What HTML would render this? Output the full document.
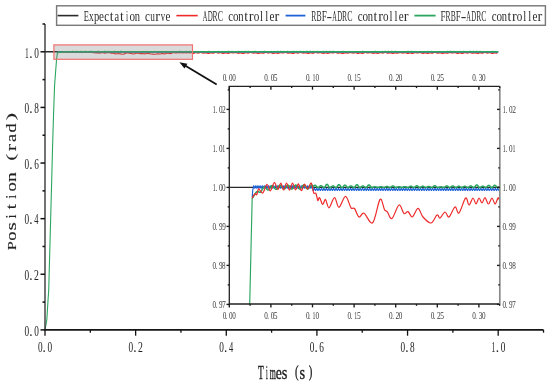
<!DOCTYPE html>
<html><head><meta charset="utf-8"><style>
html,body{margin:0;padding:0;background:#fff;width:550px;height:385px;overflow:hidden;}
svg{will-change:transform;}
svg{display:block;}
text{font-family:"Liberation Serif", serif;}
</style></head><body>
<svg width="550" height="385" viewBox="0 0 550 385" font-family='"Liberation Serif", serif'>
<rect width="550" height="385" fill="#fff"/>
<g fill="none" stroke-linejoin="round">
<path d="M45.00,51.80 L498.20,51.80" stroke="#2a2a2a" stroke-width="1.6"/>
<path d="M57.46,52.58 L58.60,51.95 L59.50,52.04 L60.41,52.07 L61.32,51.87 L62.22,51.68 L63.13,51.77 L64.03,51.96 L64.94,51.92 L65.85,51.70 L66.75,51.66 L67.66,51.86 L68.57,51.97 L69.47,51.80 L70.38,51.64 L71.29,51.74 L72.19,51.94 L73.10,51.91 L74.00,51.69 L74.91,51.66 L75.82,51.86 L76.72,51.96 L77.63,51.80 L78.54,51.64 L79.44,51.74 L80.35,51.94 L81.26,51.91 L82.16,51.69 L83.07,51.66 L83.98,51.86 L84.88,51.96 L85.79,51.80 L86.69,51.64 L87.60,51.74 L88.51,51.94 L89.41,51.91 L90.32,51.85 L91.23,52.19 L92.13,52.24 L93.04,52.65 L93.95,52.58 L94.85,52.72 L95.76,52.99 L96.66,52.83 L97.57,52.72 L98.48,53.00 L99.38,53.24 L100.29,53.02 L101.20,52.80 L102.10,52.58 L103.01,52.73 L103.92,52.98 L104.82,53.20 L105.73,53.01 L106.64,52.81 L107.54,52.61 L108.45,52.48 L109.35,52.73 L110.26,52.98 L111.17,53.22 L112.07,53.28 L112.98,53.30 L113.89,53.47 L114.79,53.70 L115.70,53.91 L116.61,53.82 L117.51,53.73 L118.42,53.65 L119.32,53.78 L120.23,53.91 L121.14,54.04 L122.04,54.17 L122.95,54.29 L123.86,54.01 L124.76,53.63 L125.67,53.25 L126.58,52.88 L127.48,52.78 L128.39,53.05 L129.30,53.31 L130.20,53.45 L131.11,53.55 L132.01,53.72 L132.92,53.89 L133.83,53.97 L134.73,53.74 L135.64,53.51 L136.55,53.28 L137.45,53.06 L138.36,53.26 L139.27,53.47 L140.17,53.67 L141.08,53.61 L141.98,53.55 L142.89,53.61 L143.80,53.76 L144.70,53.91 L145.61,53.74 L146.52,53.55 L147.42,53.37 L148.33,53.42 L149.24,53.62 L150.14,53.83 L151.05,53.96 L151.96,54.05 L152.86,54.14 L153.77,54.23 L154.67,54.32 L155.58,54.21 L156.49,54.06 L157.39,53.90 L158.30,53.79 L159.21,53.91 L160.11,53.93 L161.02,53.79 L161.93,53.64 L162.83,53.61 L163.74,53.76 L164.64,53.91 L165.55,53.72 L166.46,53.52 L167.36,53.32 L168.27,53.26 L169.18,53.44 L170.08,53.62 L170.99,53.37 L171.90,53.10 L172.80,52.83 L173.71,52.56 L174.62,52.80 L175.52,53.04 L176.43,52.86 L177.33,52.65 L178.24,52.69 L179.15,52.92 L180.05,52.81 L180.96,52.57 L181.87,52.74 L182.77,52.88 L183.68,52.67 L184.59,52.60 L185.49,52.83 L186.40,52.93 L187.30,52.73 L188.21,52.59 L189.12,52.82 L190.02,52.91 L190.93,52.67 L191.84,52.64 L192.74,53.48 L193.65,53.49 L194.56,53.12 L195.46,52.73 L196.37,52.70 L197.28,52.97 L198.18,53.14 L199.09,52.94 L199.99,52.57 L200.90,52.43 L201.81,52.70 L202.71,53.11 L203.62,53.24 L204.53,53.02 L205.43,52.80 L206.34,52.92 L207.25,53.31 L208.15,53.57 L209.06,53.42 L209.96,53.03 L210.87,52.82 L211.78,52.99 L212.68,53.25 L213.59,53.22 L214.50,52.84 L215.40,52.48 L216.31,52.50 L217.22,52.84 L218.12,53.10 L219.03,53.00 L219.94,52.71 L220.84,52.64 L221.75,52.96 L222.65,53.39 L223.56,53.50 L224.47,53.24 L225.37,52.94 L226.28,52.98 L227.19,53.28 L228.09,53.45 L229.00,53.22 L229.91,52.77 L230.81,52.54 L231.72,52.71 L232.62,53.02 L233.53,53.05 L234.44,52.76 L235.34,52.49 L236.25,52.60 L237.16,53.03 L238.06,53.35 L238.97,53.28 L239.88,52.99 L240.78,52.89 L241.69,53.15 L242.60,53.49 L243.50,53.51 L244.41,53.15 L245.31,52.78 L246.22,52.74 L247.13,53.01 L248.03,53.17 L248.94,52.96 L249.85,52.57 L250.75,52.42 L251.66,52.68 L252.57,53.07 L253.47,53.20 L254.38,52.97 L255.28,52.76 L256.19,52.88 L257.10,53.29 L258.00,53.57 L258.91,53.43 L259.82,53.05 L260.72,52.85 L261.63,53.02 L262.54,53.29 L263.44,53.26 L264.35,52.87 L265.26,52.50 L266.16,52.51 L267.07,52.84 L267.97,53.09 L268.88,52.98 L269.79,52.68 L270.69,52.60 L271.60,52.92 L272.51,53.35 L273.41,53.47 L274.32,53.22 L275.23,52.94 L276.13,52.99 L277.04,53.30 L277.94,53.48 L278.85,53.26 L279.76,52.82 L280.66,52.58 L281.57,52.74 L282.48,53.03 L283.38,53.05 L284.29,52.75 L285.20,52.47 L286.10,52.57 L287.01,52.99 L287.92,53.30 L288.82,53.24 L289.73,52.96 L290.63,52.87 L291.54,53.14 L292.45,53.50 L293.35,53.53 L294.26,53.18 L295.17,52.81 L296.07,52.79 L296.98,53.05 L297.89,53.20 L298.79,52.99 L299.70,52.58 L300.60,52.42 L301.51,52.66 L302.42,53.05 L303.32,53.16 L304.23,52.93 L305.14,52.71 L306.04,52.85 L306.95,53.26 L307.86,53.55 L308.76,53.42 L309.67,53.06 L310.58,52.88 L311.48,53.06 L312.39,53.33 L313.29,53.30 L314.20,52.91 L315.11,52.54 L316.01,52.53 L316.92,52.85 L317.83,53.08 L318.73,52.95 L319.64,52.64 L320.55,52.56 L321.45,52.88 L322.36,53.31 L323.26,53.44 L324.17,53.20 L325.08,52.93 L325.98,52.99 L326.89,53.32 L327.80,53.51 L328.70,53.30 L329.61,52.86 L330.52,52.62 L331.42,52.78 L332.33,53.06 L333.24,53.07 L334.14,52.75 L335.05,52.45 L335.95,52.54 L336.86,52.95 L337.77,53.26 L338.67,53.20 L339.58,52.92 L340.49,52.84 L341.39,53.13 L342.30,53.50 L343.21,53.54 L344.11,53.21 L345.02,52.85 L345.92,52.83 L346.83,53.09 L347.74,53.24 L348.64,53.02 L349.55,52.60 L350.46,52.42 L351.36,52.65 L352.27,53.02 L353.18,53.13 L354.08,52.89 L354.99,52.67 L355.90,52.81 L356.80,53.23 L357.71,53.53 L358.61,53.42 L359.52,53.07 L360.43,52.90 L361.33,53.09 L362.24,53.37 L363.15,53.34 L364.05,52.95 L364.96,52.57 L365.87,52.56 L366.77,52.86 L367.68,53.08 L368.58,52.94 L369.49,52.61 L370.40,52.53 L371.30,52.84 L372.21,53.27 L373.12,53.40 L374.02,53.17 L374.93,52.92 L375.84,52.99 L376.74,53.33 L377.65,53.54 L378.56,53.33 L379.46,52.90 L380.37,52.67 L381.27,52.82 L382.18,53.09 L383.09,53.09 L383.99,52.75 L384.90,52.44 L385.81,52.52 L386.71,52.92 L387.62,53.22 L388.53,53.16 L389.43,52.88 L390.34,52.81 L391.24,53.10 L392.15,53.49 L393.06,53.55 L393.96,53.23 L394.87,52.88 L395.78,52.87 L396.68,53.13 L397.59,53.28 L398.50,53.05 L399.40,52.63 L400.31,52.43 L401.22,52.65 L402.12,53.01 L403.03,53.10 L403.93,52.86 L404.84,52.63 L405.75,52.76 L406.65,53.19 L407.56,53.50 L408.47,53.40 L409.37,53.06 L410.28,52.91 L411.19,53.11 L412.09,53.41 L413.00,53.38 L413.90,53.00 L414.81,52.61 L415.72,52.59 L416.62,52.88 L417.53,53.08 L418.44,52.93 L419.34,52.59 L420.25,52.49 L421.16,52.80 L422.06,53.23 L422.97,53.36 L423.88,53.14 L424.78,52.89 L425.69,52.98 L426.59,53.34 L427.50,53.56 L428.41,53.36 L429.31,52.94 L430.22,52.71 L431.13,52.86 L432.03,53.13 L432.94,53.11 L433.85,52.76 L434.75,52.44 L435.66,52.50 L436.56,52.89 L437.47,53.19 L438.38,53.11 L439.28,52.84 L440.19,52.77 L441.10,53.07 L442.00,53.47 L442.91,53.55 L443.82,53.24 L444.72,52.91 L445.63,52.90 L446.54,53.17 L447.44,53.33 L448.35,53.09 L449.25,52.66 L450.16,52.45 L451.07,52.66 L451.97,53.00 L452.88,53.08 L453.79,52.82 L454.69,52.59 L455.60,52.72 L456.51,53.15 L457.41,53.47 L458.32,53.38 L459.22,53.05 L460.13,52.92 L461.04,53.13 L461.94,53.44 L462.85,53.42 L463.76,53.04 L464.66,52.65 L465.57,52.62 L466.48,52.90 L467.38,53.09 L468.29,52.93 L469.20,52.58 L470.10,52.46 L471.01,52.76 L471.91,53.18 L472.82,53.32 L473.73,53.10 L474.63,52.87 L475.54,52.97 L476.45,53.34 L477.35,53.57 L478.26,53.39 L479.17,52.97 L480.07,52.75 L480.98,52.90 L481.88,53.16 L482.79,53.14 L483.70,52.78 L484.60,52.45 L485.51,52.50 L486.42,52.87 L487.32,53.15 L488.23,53.07 L489.14,52.79 L490.04,52.73 L490.95,53.04 L491.86,53.45 L492.76,53.54 L493.67,53.25 L494.57,52.92 L495.48,52.93 L496.39,53.21 L497.29,53.37" stroke="#ee2a2a" stroke-width="1.1"/>
<path d="M57.46,52.50 L57.76,52.04 L58.05,51.84 L58.34,51.69 L58.64,51.81 L58.93,51.85 L59.23,51.73 L59.52,51.69 L59.81,51.81 L60.11,51.85 L60.40,51.73 L60.70,51.69 L60.99,51.81 L61.28,51.85 L61.58,51.74 L61.87,51.69 L62.16,51.81 L62.46,51.85 L62.75,51.74 L63.05,51.69 L63.34,51.81 L63.63,51.85 L63.93,51.74 L64.22,51.69 L64.51,51.81 L64.81,51.85 L65.10,51.74 L65.40,51.69 L65.69,51.80 L65.98,51.86 L66.28,51.74 L66.57,51.69 L66.87,51.80 L67.16,51.86 L67.45,51.74 L67.75,51.69 L68.04,51.80 L68.33,51.86 L68.63,51.74 L68.92,51.69 L69.22,51.80 L69.51,51.86 L69.80,51.74 L70.10,51.69 L70.39,51.80 L70.69,51.86 L70.98,51.75 L71.27,51.69 L71.57,51.80 L71.86,51.86 L72.15,51.75 L72.45,51.69 L72.74,51.80 L73.04,51.86 L73.33,51.75 L73.62,51.69 L73.92,51.79 L74.21,51.86 L74.50,51.75 L74.80,51.69 L75.09,51.79 L75.39,51.86 L75.68,51.75 L75.97,51.69 L76.27,51.79 L76.56,51.86 L76.86,51.75 L77.15,51.69 L77.44,51.79 L77.74,51.86 L78.03,51.75 L78.32,51.68 L78.62,51.79 L78.91,51.86 L79.21,51.76 L79.50,51.68 L79.79,51.79 L80.09,51.86 L80.38,51.76 L80.68,51.68 L80.97,51.79 L81.26,51.86 L81.56,51.76 L81.85,51.68 L82.14,51.79 L82.44,51.86 L82.73,51.76 L83.03,51.68 L83.32,51.78 L83.61,51.86 L83.91,51.76 L84.20,51.68 L84.49,51.78 L84.79,51.86 L85.08,51.76 L85.38,51.68 L85.67,51.78 L85.96,51.86 L86.26,51.76 L86.55,51.68 L86.85,51.78 L87.14,51.86 L87.43,51.77 L87.73,51.68 L88.02,51.78 L88.31,51.86 L88.61,51.77 L88.90,51.68 L89.20,51.78 L89.49,51.86 L89.78,51.77 L90.08,51.68 L90.37,51.78 L90.67,52.02 L90.96,51.96 L91.25,51.88 L91.55,51.91 L91.84,52.00 L92.13,52.00 L92.43,51.91 L92.72,51.88 L93.02,51.96 L93.31,52.02 L93.60,51.96 L93.90,51.88 L94.19,51.92 L94.48,52.01 L94.78,52.00 L95.07,51.91 L95.37,51.88 L95.66,51.97 L95.95,52.02 L96.25,51.95 L96.54,51.88 L96.84,51.92 L97.13,52.01 L97.42,51.99 L97.72,51.90 L98.01,51.89 L98.30,51.97 L98.60,52.02 L98.89,51.95 L99.19,51.88 L99.48,51.93 L99.77,52.01 L100.07,51.99 L100.36,51.90 L100.66,51.89 L100.95,51.98 L101.24,52.02 L101.54,51.94 L101.83,51.88 L102.12,51.93 L102.42,52.01 L102.71,51.99 L103.01,51.89 L103.30,51.89 L103.59,51.98 L103.89,52.02 L104.18,51.93 L104.47,51.88 L104.77,51.94 L105.06,52.02 L105.36,51.98 L105.65,51.89 L105.94,51.89 L106.24,51.99 L106.53,52.01 L106.83,51.93 L107.12,51.88 L107.41,51.94 L107.71,52.02 L108.00,51.98 L108.29,51.89 L108.59,51.90 L108.88,51.99 L109.18,52.01 L109.47,51.92 L109.76,51.88 L110.06,51.95 L110.35,52.02 L110.65,51.97 L110.94,51.88 L111.23,51.90 L111.53,52.00 L111.82,52.01 L112.11,51.92 L112.41,51.88 L112.70,51.95 L113.00,52.02 L113.29,51.97 L113.58,51.88 L113.88,51.91 L114.17,52.00 L114.46,52.00 L114.76,51.91 L115.05,51.88 L115.35,51.96 L115.64,52.02 L115.93,51.96 L116.23,51.88 L116.52,51.91 L116.82,52.00 L117.11,52.00 L117.40,51.91 L117.70,51.88 L117.99,51.96 L118.28,52.02 L118.58,51.95 L118.87,51.88 L119.17,51.92 L119.46,52.01 L119.75,52.00 L120.05,51.90 L120.34,51.88 L120.64,51.97 L120.93,52.02 L121.22,51.95 L121.52,51.88 L121.81,51.92 L122.10,52.01 L122.40,51.99 L122.69,51.90 L122.99,51.89 L123.28,51.97 L123.57,52.02 L123.87,51.94 L124.16,51.88 L124.46,51.93 L124.75,52.01 L125.04,51.99 L125.34,51.90 L125.63,51.89 L125.92,51.98 L126.22,52.02 L126.51,51.94 L126.81,51.88 L127.10,51.93 L127.39,52.01 L127.69,51.98 L127.98,51.89 L128.27,51.89 L128.57,51.98 L128.86,52.01 L129.16,51.93 L129.45,51.88 L129.74,51.94 L130.04,52.02 L130.33,51.98 L130.63,51.89 L130.92,51.90 L131.21,51.99 L131.51,52.01 L131.80,51.93 L132.09,51.88 L132.39,51.94 L132.68,52.02 L132.98,51.97 L133.27,51.89 L133.56,51.90 L133.86,51.99 L134.15,52.01 L134.45,51.92 L134.74,51.88 L135.03,51.95 L135.33,52.02 L135.62,51.97 L135.91,51.88 L136.21,51.90 L136.50,52.00 L136.80,52.01 L137.09,51.92 L137.38,51.88 L137.68,51.95 L137.97,52.02 L138.26,51.96 L138.56,51.88 L138.85,51.91 L139.15,52.00 L139.44,52.00 L139.73,51.91 L140.03,51.88 L140.32,51.96 L140.62,52.02 L140.91,51.96 L141.20,51.88 L141.50,51.91 L141.79,52.00 L142.08,52.00 L142.38,51.91 L142.67,51.88 L142.97,51.97 L143.26,52.02 L143.55,51.95 L143.85,51.88 L144.14,51.92 L144.44,52.01 L144.73,52.00 L145.02,51.90 L145.32,51.88 L145.61,51.97 L145.90,52.02 L146.20,51.95 L146.49,51.88 L146.79,51.92 L147.08,52.01 L147.37,51.99 L147.67,51.90 L147.96,51.89 L148.25,51.98 L148.55,52.02 L148.84,51.94 L149.14,51.88 L149.43,51.93 L149.72,52.01 L150.02,51.99 L150.31,51.90 L150.61,51.89 L150.90,51.98 L151.19,52.02 L151.49,51.94 L151.78,51.88 L152.07,51.93 L152.37,52.02 L152.66,51.98 L152.96,51.89 L153.25,51.89 L153.54,51.99 L153.84,52.01 L154.13,51.93 L154.43,51.88 L154.72,51.94 L155.01,52.02 L155.31,51.98 L155.60,51.89 L155.89,51.90 L156.19,51.99 L156.48,52.01 L156.78,51.93 L157.07,51.88 L157.36,51.94 L157.66,52.02 L157.95,51.97 L158.24,51.89 L158.54,51.90 L158.83,51.99 L159.13,52.01 L159.42,51.92 L159.71,51.88 L160.01,51.95 L160.30,52.02 L160.60,51.97 L160.89,51.88 L161.18,51.91 L161.48,52.00 L161.77,52.01 L162.06,51.92 L162.36,51.88 L162.65,51.96 L162.95,52.02 L163.24,51.96 L163.53,51.88 L163.83,51.91 L164.12,52.00 L164.42,52.00 L164.71,51.91 L165.00,51.88 L165.30,51.96 L165.59,52.02 L165.88,51.96 L166.18,51.88 L166.47,51.91 L166.77,52.01 L167.06,52.00 L167.35,51.91 L167.65,51.88 L167.94,51.97 L168.23,52.02 L168.53,51.95 L168.82,51.88 L169.12,51.92 L169.41,52.01 L169.70,52.00 L170.00,51.90 L170.29,51.88 L170.59,51.97 L170.88,52.02 L171.17,51.95 L171.47,51.88 L171.76,51.92 L172.05,52.01 L172.35,51.99 L172.64,51.90 L172.94,51.89 L173.23,51.98 L173.52,52.02 L173.82,51.94 L174.11,51.88 L174.41,51.93 L174.70,52.01 L174.99,51.99 L175.29,51.89 L175.58,51.89 L175.87,51.98 L176.17,52.02 L176.46,51.94 L176.76,51.88 L177.05,51.94 L177.34,52.02 L177.64,51.98 L177.93,51.89 L178.22,51.89 L178.52,51.99 L178.81,52.01 L179.11,51.93 L179.40,51.88 L179.69,51.94 L179.99,52.02 L180.28,51.98 L180.58,51.89 L180.87,51.90 L181.16,51.99 L181.46,52.01 L181.75,51.93 L182.04,51.88 L182.34,51.95 L182.63,52.02 L182.93,51.97 L183.22,51.88 L183.51,51.90 L183.81,52.00 L184.10,52.01 L184.40,51.92 L184.69,51.88 L184.98,51.95 L185.28,52.02 L185.57,51.97 L185.86,51.88 L186.16,51.91 L186.45,52.00 L186.75,52.01 L187.04,51.91 L187.33,51.88 L187.63,51.96 L187.92,52.02 L188.21,51.96 L188.51,51.88 L188.80,51.91 L189.10,52.00 L189.39,52.00 L189.68,51.91 L189.98,51.88 L190.27,51.96 L190.57,52.02 L190.86,51.96 L191.15,51.88 L191.45,51.92 L191.74,52.01 L192.03,52.00 L192.33,51.91 L192.62,51.88 L192.92,51.97 L193.21,52.02 L193.50,51.95 L193.80,51.88 L194.09,51.92 L194.39,52.01 L194.68,51.99 L194.97,51.90 L195.27,51.88 L195.56,51.97 L195.85,52.02 L196.15,51.95 L196.44,51.88 L196.74,51.93 L197.03,52.01 L197.32,51.99 L197.62,51.90 L197.91,51.89 L198.21,51.98 L198.50,52.02 L198.79,51.94 L199.09,51.88 L199.38,51.93 L199.67,52.01 L199.97,51.99 L200.26,51.89 L200.56,51.89 L200.85,51.98 L201.14,52.02 L201.44,51.93 L201.73,51.88 L202.02,51.94 L202.32,52.02 L202.61,51.98 L202.91,51.89 L203.20,51.89 L203.49,51.99 L203.79,52.01 L204.08,51.93 L204.38,51.88 L204.67,51.94 L204.96,52.02 L205.26,51.98 L205.55,51.89 L205.84,51.90 L206.14,51.99 L206.43,52.01 L206.73,51.92 L207.02,51.88 L207.31,51.95 L207.61,52.02 L207.90,51.97 L208.20,51.88 L208.49,51.90 L208.78,52.00 L209.08,52.01 L209.37,51.92 L209.66,51.88 L209.96,51.95 L210.25,52.02 L210.55,51.97 L210.84,51.88 L211.13,51.91 L211.43,52.00 L211.72,52.00 L212.01,51.91 L212.31,51.88 L212.60,51.96 L212.90,52.02 L213.19,51.96 L213.48,51.88 L213.78,51.91 L214.07,52.00 L214.37,52.00 L214.66,51.91 L214.95,51.88 L215.25,51.96 L215.54,52.02 L215.83,51.95 L216.13,51.88 L216.42,51.92 L216.72,52.01 L217.01,52.00 L217.30,51.90 L217.60,51.88 L217.89,51.97 L218.19,52.02 L218.48,51.95 L218.77,51.88 L219.07,51.92 L219.36,52.01 L219.65,51.99 L219.95,51.90 L220.24,51.89 L220.54,51.97 L220.83,52.02 L221.12,51.94 L221.42,51.88 L221.71,51.93 L222.00,52.01 L222.30,51.99 L222.59,51.90 L222.89,51.89 L223.18,51.98 L223.47,52.02 L223.77,51.94 L224.06,51.88 L224.36,51.93 L224.65,52.01 L224.94,51.98 L225.24,51.89 L225.53,51.89 L225.82,51.98 L226.12,52.01 L226.41,51.93 L226.71,51.88 L227.00,51.94 L227.29,52.02 L227.59,51.98 L227.88,51.89 L228.18,51.90 L228.47,51.99 L228.76,52.01 L229.06,51.93 L229.35,51.88 L229.64,51.94 L229.94,52.02 L230.23,51.97 L230.53,51.89 L230.82,51.90 L231.11,51.99 L231.41,52.01 L231.70,51.92 L231.99,51.88 L232.29,51.95 L232.58,52.02 L232.88,51.97 L233.17,51.88 L233.46,51.90 L233.76,52.00 L234.05,52.01 L234.35,51.92 L234.64,51.88 L234.93,51.95 L235.23,52.02 L235.52,51.96 L235.81,51.88 L236.11,51.91 L236.40,52.00 L236.70,52.00 L236.99,51.91 L237.28,51.88 L237.58,51.96 L237.87,52.02 L238.17,51.96 L238.46,51.88 L238.75,51.91 L239.05,52.00 L239.34,52.00 L239.63,51.91 L239.93,51.88 L240.22,51.96 L240.52,52.02 L240.81,51.95 L241.10,51.88 L241.40,51.92 L241.69,52.01 L241.98,52.00 L242.28,51.90 L242.57,51.88 L242.87,51.97 L243.16,52.02 L243.45,51.95 L243.75,51.88 L244.04,51.92 L244.34,52.01 L244.63,51.99 L244.92,51.90 L245.22,51.89 L245.51,51.98 L245.80,52.02 L246.10,51.94 L246.39,51.88 L246.69,51.93 L246.98,52.01 L247.27,51.99 L247.57,51.90 L247.86,51.89 L248.16,51.98 L248.45,52.02 L248.74,51.94 L249.04,51.88 L249.33,51.93 L249.62,52.02 L249.92,51.98 L250.21,51.89 L250.51,51.89 L250.80,51.99 L251.09,52.01 L251.39,51.93 L251.68,51.88 L251.97,51.94 L252.27,52.02 L252.56,51.98 L252.86,51.89 L253.15,51.90 L253.44,51.99 L253.74,52.01 L254.03,51.93 L254.33,51.88 L254.62,51.94 L254.91,52.02 L255.21,51.97 L255.50,51.89 L255.79,51.90 L256.09,51.99 L256.38,52.01 L256.68,51.92 L256.97,51.88 L257.26,51.95 L257.56,52.02 L257.85,51.97 L258.15,51.88 L258.44,51.90 L258.73,52.00 L259.03,52.01 L259.32,51.92 L259.61,51.88 L259.91,51.96 L260.20,52.02 L260.50,51.96 L260.79,51.88 L261.08,51.91 L261.38,52.00 L261.67,52.00 L261.96,51.91 L262.26,51.88 L262.55,51.96 L262.85,52.02 L263.14,51.96 L263.43,51.88 L263.73,51.91 L264.02,52.01 L264.32,52.00 L264.61,51.91 L264.90,51.88 L265.20,51.97 L265.49,52.02 L265.78,51.95 L266.08,51.88 L266.37,51.92 L266.67,52.01 L266.96,52.00 L267.25,51.90 L267.55,51.88 L267.84,51.97 L268.14,52.02 L268.43,51.95 L268.72,51.88 L269.02,51.92 L269.31,52.01 L269.60,51.99 L269.90,51.90 L270.19,51.89 L270.49,51.98 L270.78,52.02 L271.07,51.94 L271.37,51.88 L271.66,51.93 L271.96,52.01 L272.25,51.99 L272.54,51.89 L272.84,51.89 L273.13,51.98 L273.42,52.02 L273.72,51.94 L274.01,51.88 L274.31,51.93 L274.60,52.02 L274.89,51.98 L275.19,51.89 L275.48,51.89 L275.77,51.99 L276.07,52.01 L276.36,51.93 L276.66,51.88 L276.95,51.94 L277.24,52.02 L277.54,51.98 L277.83,51.89 L278.13,51.90 L278.42,51.99 L278.71,52.01 L279.01,51.93 L279.30,51.88 L279.59,51.95 L279.89,52.02 L280.18,51.97 L280.48,51.88 L280.77,51.90 L281.06,51.99 L281.36,52.01 L281.65,51.92 L281.95,51.88 L282.24,51.95 L282.53,52.02 L282.83,51.97 L283.12,51.88 L283.41,51.91 L283.71,52.00 L284.00,52.01 L284.30,51.92 L284.59,51.88 L284.88,51.96 L285.18,52.02 L285.47,51.96 L285.76,51.88 L286.06,51.91 L286.35,52.00 L286.65,52.00 L286.94,51.91 L287.23,51.88 L287.53,51.96 L287.82,52.02 L288.12,51.96 L288.41,51.88 L288.70,51.92 L289.00,52.01 L289.29,52.00 L289.58,51.91 L289.88,51.88 L290.17,51.97 L290.47,52.02 L290.76,51.95 L291.05,51.88 L291.35,51.92 L291.64,52.01 L291.94,51.99 L292.23,51.90 L292.52,51.88 L292.82,51.97 L293.11,52.02 L293.40,51.95 L293.70,51.88 L293.99,51.93 L294.29,52.01 L294.58,51.99 L294.87,51.90 L295.17,51.89 L295.46,51.98 L295.75,52.02 L296.05,51.94 L296.34,51.88 L296.64,51.93 L296.93,52.01 L297.22,51.99 L297.52,51.89 L297.81,51.89 L298.11,51.98 L298.40,52.02 L298.69,51.93 L298.99,51.88 L299.28,51.94 L299.57,52.02 L299.87,51.98 L300.16,51.89 L300.46,51.89 L300.75,51.99 L301.04,52.01 L301.34,51.93 L301.63,51.88 L301.93,51.94 L302.22,52.02 L302.51,51.98 L302.81,51.89 L303.10,51.90 L303.39,51.99 L303.69,52.01 L303.98,51.92 L304.28,51.88 L304.57,51.95 L304.86,52.02 L305.16,51.97 L305.45,51.88 L305.74,51.90 L306.04,52.00 L306.33,52.01 L306.63,51.92 L306.92,51.88 L307.21,51.95 L307.51,52.02 L307.80,51.97 L308.10,51.88 L308.39,51.91 L308.68,52.00 L308.98,52.01 L309.27,51.91 L309.56,51.88 L309.86,51.96 L310.15,52.02 L310.45,51.96 L310.74,51.88 L311.03,51.91 L311.33,52.00 L311.62,52.00 L311.92,51.91 L312.21,51.88 L312.50,51.96 L312.80,52.02 L313.09,51.96 L313.38,51.88 L313.68,51.92 L313.97,52.01 L314.27,52.00 L314.56,51.90 L314.85,51.88 L315.15,51.97 L315.44,52.02 L315.73,51.95 L316.03,51.88 L316.32,51.92 L316.62,52.01 L316.91,51.99 L317.20,51.90 L317.50,51.89 L317.79,51.97 L318.09,52.02 L318.38,51.94 L318.67,51.88 L318.97,51.93 L319.26,52.01 L319.55,51.99 L319.85,51.90 L320.14,51.89 L320.44,51.98 L320.73,52.02 L321.02,51.94 L321.32,51.88 L321.61,51.93 L321.91,52.01 L322.20,51.98 L322.49,51.89 L322.79,51.89 L323.08,51.98 L323.37,52.02 L323.67,51.93 L323.96,51.88 L324.26,51.94 L324.55,52.02 L324.84,51.98 L325.14,51.89 L325.43,51.90 L325.72,51.99 L326.02,52.01 L326.31,51.93 L326.61,51.88 L326.90,51.94 L327.19,52.02 L327.49,51.98 L327.78,51.89 L328.08,51.90 L328.37,51.99 L328.66,52.01 L328.96,51.92 L329.25,51.88 L329.54,51.95 L329.84,52.02 L330.13,51.97 L330.43,51.88 L330.72,51.90 L331.01,52.00 L331.31,52.01 L331.60,51.92 L331.90,51.88 L332.19,51.95 L332.48,52.02 L332.78,51.96 L333.07,51.88 L333.36,51.91 L333.66,52.00 L333.95,52.00 L334.25,51.91 L334.54,51.88 L334.83,51.96 L335.13,52.02 L335.42,51.96 L335.71,51.88 L336.01,51.91 L336.30,52.00 L336.60,52.00 L336.89,51.91 L337.18,51.88 L337.48,51.96 L337.77,52.02 L338.07,51.95 L338.36,51.88 L338.65,51.92 L338.95,52.01 L339.24,52.00 L339.53,51.90 L339.83,51.88 L340.12,51.97 L340.42,52.02 L340.71,51.95 L341.00,51.88 L341.30,51.92 L341.59,52.01 L341.89,51.99 L342.18,51.90 L342.47,51.89 L342.77,51.98 L343.06,52.02 L343.35,51.94 L343.65,51.88 L343.94,51.93 L344.24,52.01 L344.53,51.99 L344.82,51.90 L345.12,51.89 L345.41,51.98 L345.70,52.02 L346.00,51.94 L346.29,51.88 L346.59,51.93 L346.88,52.02 L347.17,51.98 L347.47,51.89 L347.76,51.89 L348.06,51.98 L348.35,52.01 L348.64,51.93 L348.94,51.88 L349.23,51.94 L349.52,52.02 L349.82,51.98 L350.11,51.89 L350.41,51.90 L350.70,51.99 L350.99,52.01 L351.29,51.93 L351.58,51.88 L351.88,51.94 L352.17,52.02 L352.46,51.97 L352.76,51.89 L353.05,51.90 L353.34,51.99 L353.64,52.01 L353.93,51.92 L354.23,51.88 L354.52,51.95 L354.81,52.02 L355.11,51.97 L355.40,51.88 L355.70,51.90 L355.99,52.00 L356.28,52.01 L356.58,51.92 L356.87,51.88 L357.16,51.96 L357.46,52.02 L357.75,51.96 L358.05,51.88 L358.34,51.91 L358.63,52.00 L358.93,52.00 L359.22,51.91 L359.51,51.88 L359.81,51.96 L360.10,52.02 L360.40,51.96 L360.69,51.88 L360.98,51.91 L361.28,52.01 L361.57,52.00 L361.87,51.91 L362.16,51.88 L362.45,51.97 L362.75,52.02 L363.04,51.95 L363.33,51.88 L363.63,51.92 L363.92,52.01 L364.22,52.00 L364.51,51.90 L364.80,51.88 L365.10,51.97 L365.39,52.02 L365.69,51.95 L365.98,51.88 L366.27,51.92 L366.57,52.01 L366.86,51.99 L367.15,51.90 L367.45,51.89 L367.74,51.98 L368.04,52.02 L368.33,51.94 L368.62,51.88 L368.92,51.93 L369.21,52.01 L369.50,51.99 L369.80,51.89 L370.09,51.89 L370.39,51.98 L370.68,52.02 L370.97,51.94 L371.27,51.88 L371.56,51.93 L371.86,52.02 L372.15,51.98 L372.44,51.89 L372.74,51.89 L373.03,51.99 L373.32,52.01 L373.62,51.93 L373.91,51.88 L374.21,51.94 L374.50,52.02 L374.79,51.98 L375.09,51.89 L375.38,51.90 L375.68,51.99 L375.97,52.01 L376.26,51.93 L376.56,51.88 L376.85,51.95 L377.14,52.02 L377.44,51.97 L377.73,51.88 L378.03,51.90 L378.32,51.99 L378.61,52.01 L378.91,51.92 L379.20,51.88 L379.49,51.95 L379.79,52.02 L380.08,51.97 L380.38,51.88 L380.67,51.91 L380.96,52.00 L381.26,52.01 L381.55,51.92 L381.85,51.88 L382.14,51.96 L382.43,52.02 L382.73,51.96 L383.02,51.88 L383.31,51.91 L383.61,52.00 L383.90,52.00 L384.20,51.91 L384.49,51.88 L384.78,51.96 L385.08,52.02 L385.37,51.96 L385.67,51.88 L385.96,51.92 L386.25,52.01 L386.55,52.00 L386.84,51.91 L387.13,51.88 L387.43,51.97 L387.72,52.02 L388.02,51.95 L388.31,51.88 L388.60,51.92 L388.90,52.01 L389.19,51.99 L389.48,51.90 L389.78,51.88 L390.07,51.97 L390.37,52.02 L390.66,51.95 L390.95,51.88 L391.25,51.93 L391.54,52.01 L391.84,51.99 L392.13,51.90 L392.42,51.89 L392.72,51.98 L393.01,52.02 L393.30,51.94 L393.60,51.88 L393.89,51.93 L394.19,52.01 L394.48,51.99 L394.77,51.89 L395.07,51.89 L395.36,51.98 L395.66,52.02 L395.95,51.93 L396.24,51.88 L396.54,51.94 L396.83,52.02 L397.12,51.98 L397.42,51.89 L397.71,51.89 L398.01,51.99 L398.30,52.01 L398.59,51.93 L398.89,51.88 L399.18,51.94 L399.47,52.02 L399.77,51.98 L400.06,51.89 L400.36,51.90 L400.65,51.99 L400.94,52.01 L401.24,51.92 L401.53,51.88 L401.83,51.95 L402.12,52.02 L402.41,51.97 L402.71,51.88 L403.00,51.90 L403.29,52.00 L403.59,52.01 L403.88,51.92 L404.18,51.88 L404.47,51.95 L404.76,52.02 L405.06,51.97 L405.35,51.88 L405.65,51.91 L405.94,52.00 L406.23,52.01 L406.53,51.91 L406.82,51.88 L407.11,51.96 L407.41,52.02 L407.70,51.96 L408.00,51.88 L408.29,51.91 L408.58,52.00 L408.88,52.00 L409.17,51.91 L409.46,51.88 L409.76,51.96 L410.05,52.02 L410.35,51.96 L410.64,51.88 L410.93,51.92 L411.23,52.01 L411.52,52.00 L411.82,51.90 L412.11,51.88 L412.40,51.97 L412.70,52.02 L412.99,51.95 L413.28,51.88 L413.58,51.92 L413.87,52.01 L414.17,51.99 L414.46,51.90 L414.75,51.89 L415.05,51.97 L415.34,52.02 L415.64,51.94 L415.93,51.88 L416.22,51.93 L416.52,52.01 L416.81,51.99 L417.10,51.90 L417.40,51.89 L417.69,51.98 L417.99,52.02 L418.28,51.94 L418.57,51.88 L418.87,51.93 L419.16,52.01 L419.45,51.99 L419.75,51.89 L420.04,51.89 L420.34,51.98 L420.63,52.02 L420.92,51.93 L421.22,51.88 L421.51,51.94 L421.81,52.02 L422.10,51.98 L422.39,51.89 L422.69,51.90 L422.98,51.99 L423.27,52.01 L423.57,51.93 L423.86,51.88 L424.16,51.94 L424.45,52.02 L424.74,51.98 L425.04,51.89 L425.33,51.90 L425.63,51.99 L425.92,52.01 L426.21,51.92 L426.51,51.88 L426.80,51.95 L427.09,52.02 L427.39,51.97 L427.68,51.88 L427.98,51.90 L428.27,52.00 L428.56,52.01 L428.86,51.92 L429.15,51.88 L429.45,51.95 L429.74,52.02 L430.03,51.96 L430.33,51.88 L430.62,51.91 L430.91,52.00 L431.21,52.00 L431.50,51.91 L431.80,51.88 L432.09,51.96 L432.38,52.02 L432.68,51.96 L432.97,51.88 L433.26,51.91 L433.56,52.00 L433.85,52.00 L434.15,51.91 L434.44,51.88 L434.73,51.96 L435.03,52.02 L435.32,51.95 L435.62,51.88 L435.91,51.92 L436.20,52.01 L436.50,52.00 L436.79,51.90 L437.08,51.88 L437.38,51.97 L437.67,52.02 L437.97,51.95 L438.26,51.88 L438.55,51.92 L438.85,52.01 L439.14,51.99 L439.44,51.90 L439.73,51.89 L440.02,51.97 L440.32,52.02 L440.61,51.94 L440.90,51.88 L441.20,51.93 L441.49,52.01 L441.79,51.99 L442.08,51.90 L442.37,51.89 L442.67,51.98 L442.96,52.02 L443.25,51.94 L443.55,51.88 L443.84,51.93 L444.14,52.01 L444.43,51.98 L444.72,51.89 L445.02,51.89 L445.31,51.98 L445.61,52.01 L445.90,51.93 L446.19,51.88 L446.49,51.94 L446.78,52.02 L447.07,51.98 L447.37,51.89 L447.66,51.90 L447.96,51.99 L448.25,52.01 L448.54,51.93 L448.84,51.88 L449.13,51.94 L449.43,52.02 L449.72,51.97 L450.01,51.89 L450.31,51.90 L450.60,51.99 L450.89,52.01 L451.19,51.92 L451.48,51.88 L451.78,51.95 L452.07,52.02 L452.36,51.97 L452.66,51.88 L452.95,51.90 L453.24,52.00 L453.54,52.01 L453.83,51.92 L454.13,51.88 L454.42,51.95 L454.71,52.02 L455.01,51.96 L455.30,51.88 L455.60,51.91 L455.89,52.00 L456.18,52.00 L456.48,51.91 L456.77,51.88 L457.06,51.96 L457.36,52.02 L457.65,51.96 L457.95,51.88 L458.24,51.91 L458.53,52.00 L458.83,52.00 L459.12,51.91 L459.42,51.88 L459.71,51.97 L460.00,52.02 L460.30,51.95 L460.59,51.88 L460.88,51.92 L461.18,52.01 L461.47,52.00 L461.77,51.90 L462.06,51.88 L462.35,51.97 L462.65,52.02 L462.94,51.95 L463.23,51.88 L463.53,51.92 L463.82,52.01 L464.12,51.99 L464.41,51.90 L464.70,51.89 L465.00,51.98 L465.29,52.02 L465.59,51.94 L465.88,51.88 L466.17,51.93 L466.47,52.01 L466.76,51.99 L467.05,51.89 L467.35,51.89 L467.64,51.98 L467.94,52.02 L468.23,51.94 L468.52,51.88 L468.82,51.93 L469.11,52.02 L469.41,51.98 L469.70,51.89 L469.99,51.89 L470.29,51.99 L470.58,52.01 L470.87,51.93 L471.17,51.88 L471.46,51.94 L471.76,52.02 L472.05,51.98 L472.34,51.89 L472.64,51.90 L472.93,51.99 L473.22,52.01 L473.52,51.93 L473.81,51.88 L474.11,51.95 L474.40,52.02 L474.69,51.97 L474.99,51.88 L475.28,51.90 L475.58,51.99 L475.87,52.01 L476.16,51.92 L476.46,51.88 L476.75,51.95 L477.04,52.02 L477.34,51.97 L477.63,51.88 L477.93,51.91 L478.22,52.00 L478.51,52.01 L478.81,51.92 L479.10,51.88 L479.40,51.96 L479.69,52.02 L479.98,51.96 L480.28,51.88 L480.57,51.91 L480.86,52.00 L481.16,52.00 L481.45,51.91 L481.75,51.88 L482.04,51.96 L482.33,52.02 L482.63,51.96 L482.92,51.88 L483.21,51.91 L483.51,52.01 L483.80,52.00 L484.10,51.91 L484.39,51.88 L484.68,51.97 L484.98,52.02 L485.27,51.95 L485.57,51.88 L485.86,51.92 L486.15,52.01 L486.45,52.00 L486.74,51.90 L487.03,51.88 L487.33,51.97 L487.62,52.02 L487.92,51.95 L488.21,51.88 L488.50,51.93 L488.80,52.01 L489.09,51.99 L489.39,51.90 L489.68,51.89 L489.97,51.98 L490.27,52.02 L490.56,51.94 L490.85,51.88 L491.15,51.93 L491.44,52.01 L491.74,51.99 L492.03,51.89 L492.32,51.89 L492.62,51.98 L492.91,52.02 L493.20,51.94 L493.50,51.88 L493.79,51.94 L494.09,52.02 L494.38,51.98 L494.67,51.89 L494.97,51.89 L495.26,51.99 L495.56,52.01 L495.85,51.93 L496.14,51.88 L496.44,51.94 L496.73,52.02 L497.02,51.98 L497.32,51.89 L497.61,51.90 L497.91,51.99 L498.20,52.01" stroke="#1f62d8" stroke-width="1.1"/>
<path d="M45.00,329.90 L46.81,320.00 L48.04,300.00 L48.72,289.99 L50.89,209.98 L51.71,179.98 L52.48,149.97 L53.52,114.98 L54.61,84.98 L56.60,58.75 L57.46,52.58 L57.76,52.52 L58.05,52.47 L58.34,52.41 L58.64,52.35 L58.93,52.29 L59.23,52.23 L59.52,52.17" stroke="#2aa660" stroke-width="1.1"/>
<path d="M57.46,52.58 L57.76,52.52 L58.05,52.47 L58.34,52.41 L58.64,52.35 L58.93,52.29 L59.23,52.23 L59.52,52.17 L59.81,52.12 L60.11,52.10 L60.40,52.09 L60.70,52.10 L60.99,52.11 L61.28,52.14 L61.58,52.15 L61.87,52.15 L62.16,52.12 L62.46,52.06 L62.75,51.99 L63.05,51.92 L63.34,51.85 L63.63,51.80 L63.93,51.77 L64.22,51.77 L64.51,51.79 L64.81,51.83 L65.10,51.88 L65.40,51.93 L65.69,51.97 L65.98,51.98 L66.28,51.98 L66.57,51.95 L66.87,51.90 L67.16,51.84 L67.45,51.77 L67.75,51.72 L68.04,51.69 L68.33,51.67 L68.63,51.69 L68.92,51.72 L69.22,51.77 L69.51,51.83 L69.80,51.88 L70.10,51.92 L70.39,51.93 L70.69,51.92 L70.98,51.89 L71.27,51.84 L71.57,51.78 L71.86,51.72 L72.15,51.67 L72.45,51.65 L72.74,51.65 L73.04,51.67 L73.33,51.72 L73.62,51.77 L73.92,51.83 L74.21,51.88 L74.50,51.91 L74.80,51.92 L75.09,51.90 L75.39,51.86 L75.68,51.81 L75.97,51.75 L76.27,51.69 L76.56,51.65 L76.86,51.64 L77.15,51.65 L77.44,51.68 L77.74,51.73 L78.03,51.79 L78.32,51.84 L78.62,51.89 L78.91,51.91 L79.21,51.91 L79.50,51.88 L79.79,51.84 L80.09,51.78 L80.38,51.72 L80.68,51.67 L80.97,51.64 L81.26,51.63 L81.56,51.65 L81.85,51.69 L82.14,51.75 L82.44,51.81 L82.73,51.86 L83.03,51.90 L83.32,51.91 L83.61,51.90 L83.91,51.87 L84.20,51.82 L84.49,51.76 L84.79,51.70 L85.08,51.66 L85.38,51.64 L85.67,51.64 L85.96,51.66 L86.26,51.71 L86.55,51.77 L86.85,51.82 L87.14,51.87 L87.43,51.90 L87.73,51.91 L88.02,51.89 L88.31,51.85 L88.61,51.80 L88.90,51.74 L89.20,51.69 L89.49,51.65 L89.78,51.63 L90.08,51.64 L90.37,51.68 L90.67,51.77 L90.96,51.71 L91.25,51.67 L91.55,51.65 L91.84,51.65 L92.13,51.67 L92.43,51.72 L92.72,51.78 L93.02,51.81 L93.31,51.81 L93.60,51.81 L93.90,51.78 L94.19,51.74 L94.48,51.70 L94.78,51.68 L95.07,51.68 L95.37,51.70 L95.66,51.73 L95.95,51.78 L96.25,51.81 L96.54,51.81 L96.84,51.81 L97.13,51.78 L97.42,51.69 L97.72,51.63 L98.01,51.59 L98.30,51.58 L98.60,51.61 L98.89,51.67 L99.19,51.75 L99.48,51.81 L99.77,51.81 L100.07,51.81 L100.36,51.79 L100.66,51.75 L100.95,51.72 L101.24,51.70 L101.54,51.69 L101.83,51.71 L102.12,51.73 L102.42,51.77 L102.71,51.81 L103.01,51.81 L103.30,51.81 L103.59,51.79 L103.89,51.72 L104.18,51.66 L104.47,51.62 L104.77,51.60 L105.06,51.62 L105.36,51.67 L105.65,51.74 L105.94,51.81 L106.24,51.81 L106.53,51.81 L106.83,51.80 L107.12,51.74 L107.41,51.68 L107.71,51.65 L108.00,51.64 L108.29,51.65 L108.59,51.69 L108.88,51.74 L109.18,51.81 L109.47,51.81 L109.76,51.81 L110.06,51.81 L110.35,51.77 L110.65,51.73 L110.94,51.71 L111.23,51.70 L111.53,51.70 L111.82,51.73 L112.11,51.76 L112.41,51.80 L112.70,51.81 L113.00,51.81 L113.29,51.81 L113.58,51.74 L113.88,51.68 L114.17,51.63 L114.46,51.61 L114.76,51.62 L115.05,51.66 L115.35,51.72 L115.64,51.79 L115.93,51.81 L116.23,51.81 L116.52,51.81 L116.82,51.78 L117.11,51.74 L117.40,51.71 L117.70,51.70 L117.99,51.71 L118.28,51.72 L118.58,51.76 L118.87,51.79 L119.17,51.81 L119.46,51.81 L119.75,51.81 L120.05,51.76 L120.34,51.70 L120.64,51.65 L120.93,51.63 L121.22,51.63 L121.52,51.66 L121.81,51.71 L122.10,51.78 L122.40,51.81 L122.69,51.81 L122.99,51.81 L123.28,51.80 L123.57,51.78 L123.87,51.77 L124.16,51.76 L124.46,51.76 L124.75,51.77 L125.04,51.78 L125.34,51.80 L125.63,51.81 L125.92,51.81 L126.22,51.81 L126.51,51.80 L126.81,51.78 L127.10,51.77 L127.39,51.76 L127.69,51.76 L127.98,51.76 L128.27,51.78 L128.57,51.79 L128.86,51.81 L129.16,51.81 L129.45,51.81 L129.74,51.80 L130.04,51.77 L130.33,51.75 L130.63,51.73 L130.92,51.73 L131.21,51.74 L131.51,51.76 L131.80,51.78 L132.09,51.81 L132.39,51.81 L132.68,51.81 L132.98,51.80 L133.27,51.76 L133.56,51.72 L133.86,51.70 L134.15,51.70 L134.45,51.71 L134.74,51.73 L135.03,51.77 L135.33,51.81 L135.62,51.81 L135.91,51.81 L136.21,51.80 L136.50,51.78 L136.80,51.77 L137.09,51.76 L137.38,51.75 L137.68,51.76 L137.97,51.77 L138.26,51.79 L138.56,51.81 L138.85,51.81 L139.15,51.81 L139.44,51.81 L139.73,51.78 L140.03,51.76 L140.32,51.75 L140.62,51.75 L140.91,51.75 L141.20,51.76 L141.50,51.78 L141.79,51.81 L142.08,51.81 L142.38,51.81 L142.67,51.81 L142.97,51.77 L143.26,51.74 L143.55,51.72 L143.85,51.71 L144.14,51.72 L144.44,51.74 L144.73,51.77 L145.02,51.80 L145.32,51.81 L145.61,51.81 L145.90,51.81 L146.20,51.77 L146.49,51.73 L146.79,51.70 L147.08,51.69 L147.37,51.69 L147.67,51.71 L147.96,51.75 L148.25,51.79 L148.55,51.81 L148.84,51.81 L149.14,51.81 L149.43,51.78 L149.72,51.75 L150.02,51.73 L150.31,51.72 L150.61,51.72 L150.90,51.73 L151.19,51.76 L151.49,51.79 L151.78,51.81 L152.07,51.81 L152.37,51.81 L152.66,51.79 L152.96,51.76 L153.25,51.74 L153.54,51.73 L153.84,51.73 L154.13,51.74 L154.43,51.77 L154.72,51.79 L155.01,51.81 L155.31,51.81 L155.60,51.81 L155.89,51.78 L156.19,51.74 L156.48,51.70 L156.78,51.69 L157.07,51.68 L157.36,51.70 L157.66,51.74 L157.95,51.78 L158.24,51.81 L158.54,51.81 L158.83,51.81 L159.13,51.80 L159.42,51.78 L159.71,51.77 L160.01,51.76 L160.30,51.76 L160.60,51.77 L160.89,51.78 L161.18,51.79 L161.48,51.81 L161.77,51.81 L162.06,51.81 L162.36,51.79 L162.65,51.75 L162.95,51.72 L163.24,51.70 L163.53,51.69 L163.83,51.71 L164.12,51.73 L164.42,51.77 L164.71,51.81 L165.00,51.81 L165.30,51.81 L165.59,51.80 L165.88,51.76 L166.18,51.72 L166.47,51.70 L166.77,51.70 L167.06,51.71 L167.35,51.73 L167.65,51.77 L167.94,51.81 L168.23,51.81 L168.53,51.81 L168.82,51.80 L169.12,51.77 L169.41,51.74 L169.70,51.72 L170.00,51.72 L170.29,51.72 L170.59,51.74 L170.88,51.77 L171.17,51.81 L171.47,51.81 L171.76,51.81 L172.05,51.81 L172.35,51.78 L172.64,51.75 L172.94,51.73 L173.23,51.72 L173.52,51.73 L173.82,51.74 L174.11,51.77 L174.41,51.80 L174.70,51.81 L174.99,51.81 L175.29,51.81 L175.58,51.77 L175.87,51.73 L176.17,51.71 L176.46,51.69 L176.76,51.70 L177.05,51.72 L177.34,51.76 L177.64,51.80 L177.93,51.81 L178.22,51.81 L178.52,51.81 L178.81,51.76 L179.11,51.69 L179.40,51.65 L179.69,51.62 L179.99,51.63 L180.28,51.66 L180.58,51.72 L180.87,51.79 L181.16,51.81 L181.46,51.81 L181.75,51.81 L182.04,51.78 L182.34,51.75 L182.63,51.72 L182.93,51.71 L183.22,51.71 L183.51,51.73 L183.81,51.76 L184.10,51.79 L184.40,51.81 L184.69,51.81 L184.98,51.81 L185.28,51.78 L185.57,51.72 L185.86,51.68 L186.16,51.66 L186.45,51.66 L186.75,51.68 L187.04,51.72 L187.33,51.78 L187.63,51.81 L187.92,51.81 L188.21,51.81 L188.51,51.78 L188.80,51.72 L189.10,51.68 L189.39,51.65 L189.68,51.65 L189.98,51.67 L190.27,51.71 L190.57,51.77 L190.86,51.81 L191.15,51.81 L191.45,51.81 L191.74,51.79 L192.03,51.75 L192.33,51.71 L192.62,51.69 L192.92,51.69 L193.21,51.70 L193.50,51.73 L193.80,51.77 L194.09,51.81 L194.39,51.81 L194.68,51.81 L194.97,51.79 L195.27,51.74 L195.56,51.70 L195.85,51.67 L196.15,51.66 L196.44,51.68 L196.74,51.71 L197.03,51.76 L197.32,51.81 L197.62,51.81 L197.91,51.81 L198.21,51.80 L198.50,51.77 L198.79,51.75 L199.09,51.73 L199.38,51.73 L199.67,51.73 L199.97,51.75 L200.26,51.78 L200.56,51.81 L200.85,51.81 L201.14,51.81 L201.44,51.81 L201.73,51.78 L202.02,51.75 L202.32,51.73 L202.61,51.73 L202.91,51.73 L203.20,51.75 L203.49,51.78 L203.79,51.80 L204.08,51.81 L204.38,51.81 L204.67,51.81 L204.96,51.77 L205.26,51.74 L205.55,51.72 L205.84,51.71 L206.14,51.71 L206.43,51.73 L206.73,51.76 L207.02,51.80 L207.31,51.81 L207.61,51.81 L207.90,51.81 L208.20,51.76 L208.49,51.70 L208.78,51.66 L209.08,51.64 L209.37,51.65 L209.66,51.68 L209.96,51.73 L210.25,51.79 L210.55,51.81 L210.84,51.81 L211.13,51.81 L211.43,51.77 L211.72,51.73 L212.01,51.69 L212.31,51.68 L212.60,51.68 L212.90,51.70 L213.19,51.74 L213.48,51.79 L213.78,51.81 L214.07,51.81 L214.37,51.81 L214.66,51.78 L214.95,51.74 L215.25,51.71 L215.54,51.69 L215.83,51.70 L216.13,51.71 L216.42,51.74 L216.72,51.79 L217.01,51.81 L217.30,51.81 L217.60,51.81 L217.89,51.78 L218.19,51.72 L218.48,51.68 L218.77,51.66 L219.07,51.66 L219.36,51.68 L219.65,51.72 L219.95,51.77 L220.24,51.81 L220.54,51.81 L220.83,51.81 L221.12,51.79 L221.42,51.74 L221.71,51.70 L222.00,51.68 L222.30,51.67 L222.59,51.69 L222.89,51.73 L223.18,51.77 L223.47,51.81 L223.77,51.81 L224.06,51.81 L224.36,51.80 L224.65,51.75 L224.94,51.72 L225.24,51.70 L225.53,51.69 L225.82,51.71 L226.12,51.73 L226.41,51.77 L226.71,51.81 L227.00,51.81 L227.29,51.81 L227.59,51.80 L227.88,51.73 L228.18,51.67 L228.47,51.64 L228.76,51.63 L229.06,51.64 L229.35,51.69 L229.64,51.75 L229.94,51.81 L230.23,51.81 L230.53,51.81 L230.82,51.80 L231.11,51.74 L231.41,51.69 L231.70,51.65 L231.99,51.64 L232.29,51.65 L232.58,51.69 L232.88,51.74 L233.17,51.81 L233.46,51.81 L233.76,51.81 L234.05,51.81 L234.35,51.77 L234.64,51.73 L234.93,51.71 L235.23,51.70 L235.52,51.71 L235.81,51.73 L236.11,51.76 L236.40,51.80 L236.70,51.81 L236.99,51.81 L237.28,51.81 L237.58,51.76 L237.87,51.71 L238.17,51.67 L238.46,51.66 L238.75,51.66 L239.05,51.69 L239.34,51.74 L239.63,51.79 L239.93,51.81 L240.22,51.81 L240.52,51.81 L240.81,51.77 L241.10,51.72 L241.40,51.68 L241.69,51.66 L241.98,51.67 L242.28,51.69 L242.57,51.74 L242.87,51.79 L243.16,51.81 L243.45,51.81 L243.75,51.81 L244.04,51.76 L244.34,51.69 L244.63,51.64 L244.92,51.62 L245.22,51.62 L245.51,51.65 L245.80,51.71 L246.10,51.78 L246.39,51.81 L246.69,51.81 L246.98,51.81 L247.27,51.77 L247.57,51.71 L247.86,51.66 L248.16,51.64 L248.45,51.64 L248.74,51.66 L249.04,51.71 L249.33,51.77 L249.62,51.81 L249.92,51.81 L250.21,51.81 L250.51,51.79 L250.80,51.75 L251.09,51.72 L251.39,51.70 L251.68,51.70 L251.97,51.71 L252.27,51.74 L252.56,51.78 L252.86,51.81 L253.15,51.81 L253.44,51.81 L253.74,51.78 L254.03,51.71 L254.33,51.64 L254.62,51.61 L254.91,51.60 L255.21,51.63 L255.50,51.68 L255.79,51.75 L256.09,51.81 L256.38,51.81 L256.68,51.81 L256.97,51.80 L257.26,51.77 L257.56,51.74 L257.85,51.72 L258.15,51.72 L258.44,51.73 L258.73,51.75 L259.03,51.78 L259.32,51.81 L259.61,51.81 L259.91,51.81 L260.20,51.80 L260.50,51.75 L260.79,51.71 L261.08,51.69 L261.38,51.68 L261.67,51.69 L261.96,51.72 L262.26,51.76 L262.55,51.81 L262.85,51.81 L263.14,51.81 L263.43,51.81 L263.73,51.74 L264.02,51.68 L264.32,51.64 L264.61,51.63 L264.90,51.64 L265.20,51.68 L265.49,51.74 L265.78,51.80 L266.08,51.81 L266.37,51.81 L266.67,51.81 L266.96,51.78 L267.25,51.74 L267.55,51.72 L267.84,51.72 L268.14,51.72 L268.43,51.74 L268.72,51.77 L269.02,51.80 L269.31,51.81 L269.60,51.81 L269.90,51.81 L270.19,51.77 L270.49,51.72 L270.78,51.68 L271.07,51.67 L271.37,51.67 L271.66,51.70 L271.96,51.74 L272.25,51.79 L272.54,51.81 L272.84,51.81 L273.13,51.81 L273.42,51.79 L273.72,51.76 L274.01,51.74 L274.31,51.73 L274.60,51.73 L274.89,51.75 L275.19,51.77 L275.48,51.80 L275.77,51.81 L276.07,51.81 L276.36,51.81 L276.66,51.77 L276.95,51.71 L277.24,51.67 L277.54,51.65 L277.83,51.65 L278.13,51.67 L278.42,51.72 L278.71,51.78 L279.01,51.81 L279.30,51.81 L279.59,51.81 L279.89,51.77 L280.18,51.71 L280.48,51.66 L280.77,51.63 L281.06,51.63 L281.36,51.66 L281.65,51.70 L281.95,51.77 L282.24,51.81 L282.53,51.81 L282.83,51.81 L283.12,51.79 L283.41,51.73 L283.71,51.69 L284.00,51.66 L284.30,51.66 L284.59,51.68 L284.88,51.72 L285.18,51.77 L285.47,51.81 L285.76,51.81 L286.06,51.81 L286.35,51.79 L286.65,51.72 L286.94,51.66 L287.23,51.62 L287.53,51.62 L287.82,51.64 L288.12,51.68 L288.41,51.75 L288.70,51.81 L289.00,51.81 L289.29,51.81 L289.58,51.80 L289.88,51.76 L290.17,51.72 L290.47,51.70 L290.76,51.69 L291.05,51.70 L291.35,51.73 L291.64,51.77 L291.94,51.81 L292.23,51.81 L292.52,51.81 L292.82,51.80 L293.11,51.74 L293.40,51.69 L293.70,51.65 L293.99,51.64 L294.29,51.65 L294.58,51.69 L294.87,51.74 L295.17,51.81 L295.46,51.81 L295.75,51.81 L296.05,51.81 L296.34,51.75 L296.64,51.70 L296.93,51.67 L297.22,51.65 L297.52,51.66 L297.81,51.69 L298.11,51.74 L298.40,51.80 L298.69,51.81 L298.99,51.81 L299.28,51.81 L299.57,51.76 L299.87,51.71 L300.16,51.67 L300.46,51.66 L300.75,51.66 L301.04,51.69 L301.34,51.74 L301.63,51.79 L301.93,51.81 L302.22,51.81 L302.51,51.81 L302.81,51.77 L303.10,51.72 L303.39,51.69 L303.69,51.67 L303.98,51.68 L304.28,51.70 L304.57,51.74 L304.86,51.79 L305.16,51.81 L305.45,51.81 L305.74,51.81 L306.04,51.76 L306.33,51.70 L306.63,51.65 L306.92,51.62 L307.21,51.62 L307.51,51.66 L307.80,51.71 L308.10,51.78 L308.39,51.81 L308.68,51.81 L308.98,51.81 L309.27,51.77 L309.56,51.69 L309.86,51.64 L310.15,51.61 L310.45,51.61 L310.74,51.64 L311.03,51.69 L311.33,51.77 L311.62,51.81 L311.92,51.81 L312.21,51.81 L312.50,51.78 L312.80,51.74 L313.09,51.70 L313.38,51.67 L313.68,51.67 L313.97,51.69 L314.27,51.73 L314.56,51.77 L314.85,51.81 L315.15,51.81 L315.44,51.81 L315.73,51.79 L316.03,51.73 L316.32,51.68 L316.62,51.65 L316.91,51.64 L317.20,51.66 L317.50,51.70 L317.79,51.76 L318.09,51.81 L318.38,51.81 L318.67,51.81 L318.97,51.80 L319.26,51.77 L319.55,51.75 L319.85,51.73 L320.14,51.73 L320.44,51.74 L320.73,51.75 L321.02,51.78 L321.32,51.81 L321.61,51.81 L321.91,51.81 L322.20,51.80 L322.49,51.74 L322.79,51.68 L323.08,51.65 L323.37,51.64 L323.67,51.65 L323.96,51.69 L324.26,51.75 L324.55,51.81 L324.84,51.81 L325.14,51.81 L325.43,51.81 L325.72,51.75 L326.02,51.69 L326.31,51.66 L326.61,51.65 L326.90,51.66 L327.19,51.69 L327.49,51.74 L327.78,51.80 L328.08,51.81 L328.37,51.81 L328.66,51.81 L328.96,51.74 L329.25,51.67 L329.54,51.62 L329.84,51.60 L330.13,51.61 L330.43,51.65 L330.72,51.72 L331.01,51.79 L331.31,51.81 L331.60,51.81 L331.90,51.81 L332.19,51.75 L332.48,51.69 L332.78,51.64 L333.07,51.62 L333.36,51.63 L333.66,51.66 L333.95,51.72 L334.25,51.79 L334.54,51.81 L334.83,51.81 L335.13,51.81 L335.42,51.78 L335.71,51.74 L336.01,51.71 L336.30,51.70 L336.60,51.70 L336.89,51.72 L337.18,51.75 L337.48,51.79 L337.77,51.81 L338.07,51.81 L338.36,51.81 L338.65,51.78 L338.95,51.74 L339.24,51.70 L339.53,51.68 L339.83,51.69 L340.12,51.70 L340.42,51.74 L340.71,51.78 L341.00,51.81 L341.30,51.81 L341.59,51.81 L341.89,51.78 L342.18,51.72 L342.47,51.67 L342.77,51.65 L343.06,51.65 L343.35,51.67 L343.65,51.71 L343.94,51.77 L344.24,51.81 L344.53,51.81 L344.82,51.81 L345.12,51.80 L345.41,51.77 L345.70,51.75 L346.00,51.74 L346.29,51.73 L346.59,51.74 L346.88,51.76 L347.17,51.79 L347.47,51.81 L347.76,51.81 L348.06,51.81 L348.35,51.79 L348.64,51.74 L348.94,51.70 L349.23,51.68 L349.52,51.67 L349.82,51.69 L350.11,51.72 L350.41,51.77 L350.70,51.81 L350.99,51.81 L351.29,51.81 L351.58,51.80 L351.88,51.77 L352.17,51.74 L352.46,51.72 L352.76,51.71 L353.05,51.72 L353.34,51.74 L353.64,51.77 L353.93,51.81 L354.23,51.81 L354.52,51.81 L354.81,51.80 L355.11,51.77 L355.40,51.74 L355.70,51.73 L355.99,51.72 L356.28,51.73 L356.58,51.75 L356.87,51.77 L357.16,51.81 L357.46,51.81 L357.75,51.81 L358.05,51.81 L358.34,51.78 L358.63,51.75 L358.93,51.73 L359.22,51.73 L359.51,51.73 L359.81,51.75 L360.10,51.77 L360.40,51.80 L360.69,51.81 L360.98,51.81 L361.28,51.81 L361.57,51.75 L361.87,51.69 L362.16,51.65 L362.45,51.63 L362.75,51.64 L363.04,51.67 L363.33,51.73 L363.63,51.79 L363.92,51.81 L364.22,51.81 L364.51,51.81 L364.80,51.78 L365.10,51.75 L365.39,51.73 L365.69,51.72 L365.98,51.72 L366.27,51.74 L366.57,51.76 L366.86,51.80 L367.15,51.81 L367.45,51.81 L367.74,51.81 L368.04,51.78 L368.33,51.74 L368.62,51.72 L368.92,51.70 L369.21,51.70 L369.50,51.72 L369.80,51.75 L370.09,51.79 L370.39,51.81 L370.68,51.81 L370.97,51.81 L371.27,51.78 L371.56,51.74 L371.86,51.70 L372.15,51.68 L372.44,51.68 L372.74,51.70 L373.03,51.74 L373.32,51.78 L373.62,51.81 L373.91,51.81 L374.21,51.81 L374.50,51.78 L374.79,51.71 L375.09,51.65 L375.38,51.62 L375.68,51.62 L375.97,51.64 L376.26,51.69 L376.56,51.76 L376.85,51.81 L377.14,51.81 L377.44,51.81 L377.73,51.80 L378.03,51.77 L378.32,51.74 L378.61,51.73 L378.91,51.73 L379.20,51.73 L379.49,51.76 L379.79,51.78 L380.08,51.81 L380.38,51.81 L380.67,51.81 L380.96,51.80 L381.26,51.75 L381.55,51.71 L381.85,51.68 L382.14,51.67 L382.43,51.69 L382.73,51.72 L383.02,51.76 L383.31,51.81 L383.61,51.81 L383.90,51.81 L384.20,51.80 L384.49,51.75 L384.78,51.70 L385.08,51.67 L385.37,51.66 L385.67,51.67 L385.96,51.71 L386.25,51.75 L386.55,51.81 L386.84,51.81 L387.13,51.81 L387.43,51.81 L387.72,51.73 L388.02,51.67 L388.31,51.63 L388.60,51.61 L388.90,51.63 L389.19,51.67 L389.48,51.73 L389.78,51.80 L390.07,51.81 L390.37,51.81 L390.66,51.81 L390.95,51.74 L391.25,51.68 L391.54,51.64 L391.84,51.62 L392.13,51.63 L392.42,51.67 L392.72,51.73 L393.01,51.80 L393.30,51.81 L393.60,51.81 L393.89,51.81 L394.19,51.75 L394.48,51.68 L394.77,51.64 L395.07,51.62 L395.36,51.62 L395.66,51.66 L395.95,51.72 L396.24,51.79 L396.54,51.81 L396.83,51.81 L397.12,51.81 L397.42,51.78 L397.71,51.74 L398.01,51.71 L398.30,51.70 L398.59,51.70 L398.89,51.72 L399.18,51.75 L399.47,51.79 L399.77,51.81 L400.06,51.81 L400.36,51.81 L400.65,51.78 L400.94,51.73 L401.24,51.70 L401.53,51.68 L401.83,51.68 L402.12,51.70 L402.41,51.74 L402.71,51.78 L403.00,51.81 L403.29,51.81 L403.59,51.81 L403.88,51.79 L404.18,51.74 L404.47,51.71 L404.76,51.69 L405.06,51.69 L405.35,51.70 L405.65,51.74 L405.94,51.78 L406.23,51.81 L406.53,51.81 L406.82,51.81 L407.11,51.78 L407.41,51.71 L407.70,51.65 L408.00,51.62 L408.29,51.61 L408.58,51.64 L408.88,51.69 L409.17,51.76 L409.46,51.81 L409.76,51.81 L410.05,51.81 L410.35,51.79 L410.64,51.71 L410.93,51.65 L411.23,51.61 L411.52,51.60 L411.82,51.63 L412.11,51.68 L412.40,51.75 L412.70,51.81 L412.99,51.81 L413.28,51.81 L413.58,51.80 L413.87,51.77 L414.17,51.74 L414.46,51.72 L414.75,51.72 L415.05,51.72 L415.34,51.74 L415.64,51.78 L415.93,51.81 L416.22,51.81 L416.52,51.81 L416.81,51.80 L417.10,51.77 L417.40,51.74 L417.69,51.72 L417.99,51.71 L418.28,51.72 L418.57,51.74 L418.87,51.77 L419.16,51.81 L419.45,51.81 L419.75,51.81 L420.04,51.81 L420.34,51.77 L420.63,51.74 L420.92,51.71 L421.22,51.70 L421.51,51.71 L421.81,51.73 L422.10,51.76 L422.39,51.80 L422.69,51.81 L422.98,51.81 L423.27,51.81 L423.57,51.77 L423.86,51.74 L424.16,51.71 L424.45,51.70 L424.74,51.71 L425.04,51.73 L425.33,51.76 L425.63,51.80 L425.92,51.81 L426.21,51.81 L426.51,51.81 L426.80,51.77 L427.09,51.72 L427.39,51.69 L427.68,51.67 L427.98,51.67 L428.27,51.70 L428.56,51.74 L428.86,51.79 L429.15,51.81 L429.45,51.81 L429.74,51.81 L430.03,51.77 L430.33,51.72 L430.62,51.68 L430.91,51.66 L431.21,51.66 L431.50,51.68 L431.80,51.73 L432.09,51.78 L432.38,51.81 L432.68,51.81 L432.97,51.81 L433.26,51.79 L433.56,51.75 L433.85,51.72 L434.15,51.70 L434.44,51.70 L434.73,51.72 L435.03,51.75 L435.32,51.78 L435.62,51.81 L435.91,51.81 L436.20,51.81 L436.50,51.79 L436.79,51.77 L437.08,51.75 L437.38,51.74 L437.67,51.74 L437.97,51.75 L438.26,51.76 L438.55,51.79 L438.85,51.81 L439.14,51.81 L439.44,51.81 L439.73,51.79 L440.02,51.74 L440.32,51.71 L440.61,51.68 L440.90,51.68 L441.20,51.69 L441.49,51.73 L441.79,51.77 L442.08,51.81 L442.37,51.81 L442.67,51.81 L442.96,51.80 L443.25,51.75 L443.55,51.71 L443.84,51.69 L444.14,51.68 L444.43,51.70 L444.72,51.73 L445.02,51.77 L445.31,51.81 L445.61,51.81 L445.90,51.81 L446.19,51.80 L446.49,51.75 L446.78,51.70 L447.07,51.67 L447.37,51.66 L447.66,51.67 L447.96,51.70 L448.25,51.75 L448.54,51.81 L448.84,51.81 L449.13,51.81 L449.43,51.81 L449.72,51.73 L450.01,51.66 L450.31,51.62 L450.60,51.60 L450.89,51.62 L451.19,51.66 L451.48,51.73 L451.78,51.80 L452.07,51.81 L452.36,51.81 L452.66,51.81 L452.95,51.75 L453.24,51.70 L453.54,51.66 L453.83,51.64 L454.13,51.65 L454.42,51.68 L454.71,51.73 L455.01,51.80 L455.30,51.81 L455.60,51.81 L455.89,51.81 L456.18,51.76 L456.48,51.72 L456.77,51.68 L457.06,51.67 L457.36,51.67 L457.65,51.70 L457.95,51.74 L458.24,51.79 L458.53,51.81 L458.83,51.81 L459.12,51.81 L459.42,51.77 L459.71,51.71 L460.00,51.67 L460.30,51.65 L460.59,51.66 L460.88,51.68 L461.18,51.73 L461.47,51.78 L461.77,51.81 L462.06,51.81 L462.35,51.81 L462.65,51.77 L462.94,51.71 L463.23,51.67 L463.53,51.64 L463.82,51.65 L464.12,51.67 L464.41,51.72 L464.70,51.78 L465.00,51.81 L465.29,51.81 L465.59,51.81 L465.88,51.79 L466.17,51.76 L466.47,51.74 L466.76,51.73 L467.05,51.73 L467.35,51.74 L467.64,51.76 L467.94,51.79 L468.23,51.81 L468.52,51.81 L468.82,51.81 L469.11,51.78 L469.41,51.71 L469.70,51.65 L469.99,51.62 L470.29,51.61 L470.58,51.64 L470.87,51.69 L471.17,51.76 L471.46,51.81 L471.76,51.81 L472.05,51.81 L472.34,51.79 L472.64,51.72 L472.93,51.67 L473.22,51.64 L473.52,51.63 L473.81,51.65 L474.11,51.69 L474.40,51.75 L474.69,51.81 L474.99,51.81 L475.28,51.81 L475.58,51.80 L475.87,51.72 L476.16,51.66 L476.46,51.63 L476.75,51.61 L477.04,51.63 L477.34,51.68 L477.63,51.74 L477.93,51.81 L478.22,51.81 L478.51,51.81 L478.81,51.80 L479.10,51.74 L479.40,51.68 L479.69,51.64 L479.98,51.63 L480.28,51.64 L480.57,51.68 L480.86,51.74 L481.16,51.81 L481.45,51.81 L481.75,51.81 L482.04,51.81 L482.33,51.76 L482.63,51.72 L482.92,51.69 L483.21,51.68 L483.51,51.69 L483.80,51.71 L484.10,51.75 L484.39,51.80 L484.68,51.81 L484.98,51.81 L485.27,51.81 L485.57,51.77 L485.86,51.72 L486.15,51.69 L486.45,51.68 L486.74,51.69 L487.03,51.71 L487.33,51.75 L487.62,51.80 L487.92,51.81 L488.21,51.81 L488.50,51.81 L488.80,51.78 L489.09,51.75 L489.39,51.73 L489.68,51.72 L489.97,51.72 L490.27,51.74 L490.56,51.76 L490.85,51.80 L491.15,51.81 L491.44,51.81 L491.74,51.81 L492.03,51.77 L492.32,51.71 L492.62,51.67 L492.91,51.65 L493.20,51.65 L493.50,51.68 L493.79,51.72 L494.09,51.78 L494.38,51.81 L494.67,51.81 L494.97,51.81 L495.26,51.79 L495.56,51.76 L495.85,51.74 L496.14,51.73 L496.44,51.73 L496.73,51.74 L497.02,51.76 L497.32,51.79 L497.61,51.81 L497.91,51.81 L498.20,51.81" stroke="#2aa660" stroke-width="1.6"/>
</g>
<rect x="53.9" y="44.9" width="138.6" height="14.4" fill="rgba(120,120,120,0.27)" stroke="#f07070" stroke-width="1.2"/>
<line x1="216.7" y1="84.6" x2="185" y2="65.6" stroke="#111" stroke-width="1.8"/>
<polygon points="179.4,62.2 187.4,63.8 184.5,68.6" fill="#111"/>
<path d="M45.0,23.99 L45.0,329.9" stroke="#383838" stroke-width="1.4" fill="none"/>
<path d="M44.4,329.9 L543.52,329.9" stroke="#151515" stroke-width="1.8" fill="none"/>
<g stroke="#111" stroke-width="1.5" fill="none">
<path d="M40.5,329.90 H45.0"/>
<path d="M42.5,302.09 H45.0"/>
<path d="M40.5,274.28 H45.0"/>
<path d="M42.5,246.47 H45.0"/>
<path d="M40.5,218.66 H45.0"/>
<path d="M42.5,190.85 H45.0"/>
<path d="M40.5,163.04 H45.0"/>
<path d="M42.5,135.23 H45.0"/>
<path d="M40.5,107.42 H45.0"/>
<path d="M42.5,79.61 H45.0"/>
<path d="M40.5,51.80 H45.0"/>
<path d="M42.5,23.99 H45.0"/>
<path d="M45.00,329.9 V335.7" stroke-width="1.3"/>
<path d="M90.32,329.9 V332.7" stroke-width="1.3"/>
<path d="M135.64,329.9 V335.7" stroke-width="1.3"/>
<path d="M180.96,329.9 V332.7" stroke-width="1.3"/>
<path d="M226.28,329.9 V335.7" stroke-width="1.3"/>
<path d="M271.60,329.9 V332.7" stroke-width="1.3"/>
<path d="M316.92,329.9 V335.7" stroke-width="1.3"/>
<path d="M362.24,329.9 V332.7" stroke-width="1.3"/>
<path d="M407.56,329.9 V335.7" stroke-width="1.3"/>
<path d="M452.88,329.9 V332.7" stroke-width="1.3"/>
<path d="M498.20,329.9 V335.7" stroke-width="1.3"/>
<path d="M543.52,329.9 V332.7" stroke-width="1.3"/>
</g>
<g font-size="14.8" fill="#222"><text transform="translate(24.58,335.70) scale(0.627,1)">0</text><text transform="translate(29.32,335.70) scale(0.900,1)">.</text><text transform="translate(34.18,335.70) scale(0.627,1)">0</text></g>
<g font-size="14.8" fill="#222"><text transform="translate(37.88,351.80) scale(0.627,1)">0</text><text transform="translate(42.61,351.80) scale(0.900,1)">.</text><text transform="translate(47.48,351.80) scale(0.627,1)">0</text></g>
<g font-size="14.8" fill="#222"><text transform="translate(24.58,280.08) scale(0.627,1)">0</text><text transform="translate(29.32,280.08) scale(0.900,1)">.</text><text transform="translate(34.10,280.08) scale(0.663,1)">2</text></g>
<g font-size="14.8" fill="#222"><text transform="translate(128.52,351.80) scale(0.627,1)">0</text><text transform="translate(133.26,351.80) scale(0.900,1)">.</text><text transform="translate(138.04,351.80) scale(0.663,1)">2</text></g>
<g font-size="14.8" fill="#222"><text transform="translate(24.58,224.46) scale(0.627,1)">0</text><text transform="translate(29.32,224.46) scale(0.900,1)">.</text><text transform="translate(34.37,224.46) scale(0.572,1)">4</text></g>
<g font-size="14.8" fill="#222"><text transform="translate(219.16,351.80) scale(0.627,1)">0</text><text transform="translate(223.90,351.80) scale(0.900,1)">.</text><text transform="translate(228.95,351.80) scale(0.572,1)">4</text></g>
<g font-size="14.8" fill="#222"><text transform="translate(24.58,168.84) scale(0.627,1)">0</text><text transform="translate(29.32,168.84) scale(0.900,1)">.</text><text transform="translate(34.14,168.84) scale(0.622,1)">6</text></g>
<g font-size="14.8" fill="#222"><text transform="translate(309.80,351.80) scale(0.627,1)">0</text><text transform="translate(314.53,351.80) scale(0.900,1)">.</text><text transform="translate(319.36,351.80) scale(0.622,1)">6</text></g>
<g font-size="14.8" fill="#222"><text transform="translate(24.58,113.22) scale(0.627,1)">0</text><text transform="translate(29.32,113.22) scale(0.900,1)">.</text><text transform="translate(34.18,113.22) scale(0.627,1)">8</text></g>
<g font-size="14.8" fill="#222"><text transform="translate(400.44,351.80) scale(0.627,1)">0</text><text transform="translate(405.17,351.80) scale(0.900,1)">.</text><text transform="translate(410.04,351.80) scale(0.627,1)">8</text></g>
<g font-size="14.8" fill="#222"><text transform="translate(24.92,57.60) scale(0.507,1)">1</text><text transform="translate(29.32,57.60) scale(0.900,1)">.</text><text transform="translate(34.18,57.60) scale(0.627,1)">0</text></g>
<g font-size="14.8" fill="#222"><text transform="translate(491.42,351.80) scale(0.507,1)">1</text><text transform="translate(495.81,351.80) scale(0.900,1)">.</text><text transform="translate(500.68,351.80) scale(0.627,1)">0</text></g>
<g font-size="18.5" fill="#1a1a1a" stroke="#1a1a1a" stroke-width="0.35"><text transform="translate(258.07,378.90) scale(0.511,1)">T</text><text transform="translate(266.01,378.90) scale(0.336,1.0)">i</text><text transform="translate(269.73,378.90) scale(0.423,1.0)">m</text><text transform="translate(275.67,378.90) scale(0.735,1.0)">e</text><text transform="translate(281.80,378.90) scale(0.779,1.0)">s</text><text transform="translate(294.91,377.00) scale(0.586,0.87)">(</text><text transform="translate(299.56,378.90) scale(0.779,1.0)">s</text><text transform="translate(308.65,377.00) scale(0.586,0.87)">)</text></g>
<g transform="translate(16.2,0) rotate(-90)">
<g font-size="12.8" fill="#222" stroke="#222" stroke-width="0.1"><text transform="translate(-250.28,0.00) scale(1.261,1)">P</text><text transform="translate(-240.69,0.00) scale(1.450,1.12)">o</text><text transform="translate(-230.45,0.00) scale(1.674,1.12)">s</text><text transform="translate(-218.42,0.00) scale(1.130,1.12)">i</text><text transform="translate(-209.21,0.00) scale(1.464,1.12)">t</text><text transform="translate(-198.76,0.00) scale(1.130,1.12)">i</text><text transform="translate(-191.54,0.00) scale(1.450,1.12)">o</text><text transform="translate(-182.05,0.00) scale(1.530,1.12)">n</text><text transform="translate(-160.85,-1.60) scale(1.645,0.95)">(</text><text transform="translate(-151.37,0.00) scale(1.717,1.12)">r</text><text transform="translate(-141.92,0.00) scale(1.400,1.12)">a</text><text transform="translate(-132.60,0.00) scale(1.394,1.12)">d</text><text transform="translate(-120.51,-1.60) scale(1.794,0.95)">)</text></g>
</g>
<rect x="229.3" y="86.3" width="270.50" height="217.70" fill="#fff"/>
<clipPath id="ic"><rect x="229.3" y="86.3" width="270.50" height="217.70"/></clipPath>
<g fill="none" stroke-linejoin="round" clip-path="url(#ic)">
<path d="M229.3,187.40 L499.8,187.40" stroke="#2a2a2a" stroke-width="1.2"/>
<path d="M252.18,197.15 L252.37,194.92 L252.56,192.69 L252.75,190.46 L252.94,189.03 L253.13,188.39 L253.32,187.75 L253.51,185.84 L253.70,185.79 L253.89,186.10 L254.08,186.68 L254.27,187.36 L254.46,187.94 L254.66,188.24 L254.85,188.17 L255.04,187.76 L255.23,187.13 L255.42,186.46 L255.61,185.95 L255.80,185.76 L255.99,185.94 L256.18,186.45 L256.37,187.11 L256.56,187.75 L256.75,188.17 L256.94,188.24 L257.13,187.94 L257.32,187.37 L257.51,186.69 L257.70,186.10 L257.89,185.79 L258.08,185.84 L258.27,186.24 L258.46,186.87 L258.65,187.54 L258.84,188.05 L259.03,188.26 L259.22,188.09 L259.42,187.60 L259.61,186.93 L259.80,186.29 L259.99,185.86 L260.18,185.78 L260.37,186.06 L260.56,186.62 L260.75,187.30 L260.94,187.90 L261.13,188.23 L261.32,188.19 L261.51,187.81 L261.70,187.18 L261.89,186.51 L262.08,185.98 L262.27,185.76 L262.46,185.92 L262.65,186.39 L262.84,187.06 L263.03,187.70 L263.22,188.15 L263.41,188.25 L263.60,187.98 L263.79,187.43 L263.98,186.75 L264.18,186.14 L264.37,185.80 L264.56,185.82 L264.75,186.19 L264.94,186.81 L265.13,187.48 L265.32,188.02 L265.51,188.25 L265.70,188.12 L265.89,187.65 L266.08,186.99 L266.27,186.34 L266.46,185.89 L266.65,185.77 L266.84,186.02 L267.03,186.57 L267.22,187.25 L267.41,187.85 L267.60,188.21 L267.79,188.21 L267.98,187.85 L268.17,187.24 L268.36,186.56 L268.55,186.02 L268.74,185.77 L268.94,185.89 L269.13,186.34 L269.32,187.00 L269.51,187.66 L269.70,188.12 L269.89,188.25 L270.08,188.02 L270.27,187.48 L270.46,186.80 L270.65,186.19 L270.84,185.82 L271.03,185.80 L271.22,186.15 L271.41,186.75 L271.60,187.43 L271.79,187.99 L271.98,188.25 L272.17,188.14 L272.36,187.70 L272.55,187.05 L272.74,186.39 L272.93,185.91 L273.12,185.76 L273.31,185.99 L273.50,186.51 L273.70,187.19 L273.89,187.81 L274.08,188.19 L274.27,188.22 L274.46,187.89 L274.65,187.30 L274.84,186.62 L275.03,186.05 L275.22,185.77 L275.41,185.86 L275.60,186.30 L275.79,186.94 L275.98,187.61 L276.17,188.09 L276.36,188.26 L276.55,188.05 L276.74,187.53 L276.93,186.86 L277.12,186.23 L277.31,185.84 L277.50,185.79 L277.69,186.11 L277.88,186.69 L278.07,187.38 L278.26,187.95 L278.46,188.24 L278.65,188.17 L278.84,187.75 L279.03,187.11 L279.22,186.44 L279.41,185.94 L279.60,185.76 L279.79,185.95 L279.98,186.46 L280.17,187.13 L280.36,187.77 L280.55,188.17 L280.74,188.24 L280.93,187.93 L281.12,187.35 L281.31,186.67 L281.50,186.09 L281.69,185.78 L281.88,185.84 L282.07,186.25 L282.26,186.88 L282.45,187.55 L282.64,188.06 L282.83,188.26 L283.02,188.08 L283.22,187.58 L283.41,186.92 L283.60,186.28 L283.79,185.86 L283.98,185.78 L284.17,186.07 L284.36,186.64 L284.55,187.32 L284.74,187.91 L284.93,188.23 L285.12,188.19 L285.31,187.79 L285.50,187.17 L285.69,186.49 L285.88,185.97 L286.07,185.76 L286.26,185.92 L286.45,186.41 L286.64,187.07 L286.83,187.72 L287.02,188.15 L287.21,188.25 L287.40,187.97 L287.59,187.41 L287.78,186.73 L287.98,186.13 L288.17,185.80 L288.36,185.82 L288.55,186.20 L288.74,186.83 L288.93,187.50 L289.12,188.03 L289.31,188.26 L289.50,188.11 L289.69,187.64 L289.88,186.98 L290.07,186.33 L290.26,185.88 L290.45,185.77 L290.64,186.03 L290.83,186.58 L291.02,187.26 L291.21,187.87 L291.40,188.22 L291.59,188.20 L291.78,187.84 L291.97,187.22 L292.16,186.55 L292.35,186.01 L292.54,185.77 L292.74,185.90 L292.93,186.36 L293.12,187.02 L293.31,187.67 L293.50,188.13 L293.69,188.25 L293.88,188.01 L294.07,187.46 L294.26,186.79 L294.45,186.17 L294.64,185.81 L294.83,185.81 L295.02,186.16 L295.21,186.77 L295.40,187.45 L295.59,188.00 L295.78,188.25 L295.97,188.14 L296.16,187.69 L296.35,187.03 L296.54,186.37 L296.73,185.90 L296.92,185.77 L297.11,186.00 L297.30,186.53 L297.50,187.21 L297.69,187.82 L297.88,188.20 L298.07,188.22 L298.26,187.88 L298.45,187.28 L298.64,186.60 L298.83,186.04 L299.02,185.77 L299.21,185.87 L299.40,186.31 L299.59,186.96 L299.78,187.62 L299.97,188.10 L300.16,188.26 L300.35,188.04 L300.54,187.52 L300.73,186.84 L300.92,186.22 L301.11,185.83 L301.30,185.79 L301.49,186.12 L301.68,186.71 L301.87,187.39 L302.06,187.96 L302.26,188.24 L302.45,188.16 L302.64,187.73 L302.83,187.09 L303.02,186.42 L303.21,185.93 L303.40,185.76 L303.59,185.96 L303.78,186.48 L303.97,187.15 L304.16,187.78 L304.35,188.18 L304.54,188.23 L304.73,187.92 L304.92,187.34 L305.11,186.66 L305.30,186.08 L305.49,185.78 L305.68,185.85 L305.87,186.26 L306.06,186.90 L306.25,187.57 L306.44,188.07 L306.63,188.26 L306.82,188.07 L307.02,187.57 L307.21,186.90 L307.40,186.26 L307.59,185.85 L307.78,185.78 L307.97,186.08 L308.16,186.66 L308.35,187.34 L308.54,187.92 L308.73,188.23 L308.92,188.18 L309.11,187.78 L309.30,187.15 L309.49,186.48 L309.68,185.96 L309.87,185.76 L310.06,185.93 L310.25,186.42 L310.44,187.09 L310.63,187.73 L310.82,188.16 L311.01,188.24 L311.20,187.96 L311.39,187.39 L311.58,186.71 L311.78,186.12 L311.97,185.79 L312.16,185.83 L312.35,186.22 L312.54,186.84 L312.73,187.52 L312.92,190.31 L313.11,190.48 L313.30,190.40 L313.49,190.10 L313.68,189.65 L313.87,189.15 L314.06,188.73 L314.25,188.49 L314.44,188.48 L314.63,188.71 L314.82,189.12 L315.01,189.62 L315.20,190.08 L315.39,190.39 L315.58,190.48 L315.77,190.32 L315.96,189.96 L316.15,189.48 L316.34,189.00 L316.54,188.63 L316.73,188.46 L316.92,188.53 L317.11,188.83 L317.30,189.28 L317.49,189.78 L317.68,190.20 L317.87,190.45 L318.06,190.45 L318.25,190.23 L318.44,189.81 L318.63,189.32 L318.82,188.86 L319.01,188.55 L319.20,188.45 L319.39,188.61 L319.58,188.97 L319.77,189.45 L319.96,189.93 L320.15,190.30 L320.34,190.48 L320.53,190.40 L320.72,190.11 L320.91,189.66 L321.10,189.16 L321.30,188.74 L321.49,188.49 L321.68,188.48 L321.87,188.71 L322.06,189.12 L322.25,189.61 L322.44,190.07 L322.63,190.39 L322.82,190.48 L323.01,190.33 L323.20,189.97 L323.39,189.49 L323.58,189.01 L323.77,188.63 L323.96,188.46 L324.15,188.53 L324.34,188.82 L324.53,189.27 L324.72,189.77 L324.91,190.19 L325.10,190.44 L325.29,190.46 L325.48,190.23 L325.67,189.82 L325.86,189.33 L326.06,188.87 L326.25,188.55 L326.44,188.45 L326.63,188.60 L326.82,188.96 L327.01,189.44 L327.20,189.92 L327.39,190.30 L327.58,190.47 L327.77,190.41 L327.96,190.11 L328.15,189.66 L328.34,189.17 L328.53,188.74 L328.72,188.49 L328.91,188.48 L329.10,188.70 L329.29,189.11 L329.48,189.60 L329.67,190.06 L329.86,190.38 L330.05,190.48 L330.24,190.33 L330.43,189.98 L330.62,189.50 L330.82,189.01 L331.01,188.64 L331.20,188.46 L331.39,188.53 L331.58,188.82 L331.77,189.27 L331.96,189.76 L332.15,190.19 L332.34,190.44 L332.53,190.46 L332.72,190.24 L332.91,189.83 L333.10,189.34 L333.29,188.87 L333.48,188.55 L333.67,188.45 L333.86,188.60 L334.05,188.95 L334.24,189.43 L334.43,189.92 L334.62,190.29 L334.81,190.47 L335.00,190.41 L335.19,190.12 L335.38,189.67 L335.58,189.18 L335.77,188.75 L335.96,188.49 L336.15,188.47 L336.34,188.69 L336.53,189.10 L336.72,189.59 L336.91,190.06 L337.10,190.38 L337.29,190.48 L337.48,190.34 L337.67,189.99 L337.86,189.51 L338.05,189.02 L338.24,188.64 L338.43,188.46 L338.62,188.52 L338.81,188.81 L339.00,189.26 L339.19,189.75 L339.38,190.18 L339.57,190.44 L339.76,190.46 L339.95,190.24 L340.14,189.84 L340.34,189.34 L340.53,188.88 L340.72,188.56 L340.91,188.45 L341.10,188.59 L341.29,188.94 L341.48,189.42 L341.67,189.91 L341.86,190.29 L342.05,190.47 L342.24,190.41 L342.43,190.13 L342.62,189.68 L342.81,189.18 L343.00,188.75 L343.19,188.50 L343.38,188.47 L343.57,188.69 L343.76,189.09 L343.95,189.59 L344.14,190.05 L344.33,190.37 L344.52,190.48 L344.71,190.34 L344.90,189.99 L345.10,189.52 L345.29,189.03 L345.48,188.65 L345.67,188.46 L345.86,188.52 L346.05,188.80 L346.24,189.25 L346.43,189.75 L346.62,190.18 L346.81,190.44 L347.00,190.46 L347.19,190.25 L347.38,189.85 L347.57,189.35 L347.76,188.89 L347.95,188.56 L348.14,188.45 L348.33,188.59 L348.52,188.94 L348.71,189.41 L348.90,189.90 L349.09,190.28 L349.28,190.47 L349.47,190.42 L349.66,190.13 L349.86,189.69 L350.05,189.19 L350.24,188.76 L350.43,188.50 L350.62,188.47 L350.81,188.68 L351.00,189.08 L351.19,189.58 L351.38,190.04 L351.57,190.37 L351.76,190.48 L351.95,190.35 L352.14,190.00 L352.33,189.53 L352.52,189.04 L352.71,188.65 L352.90,188.46 L353.09,188.52 L353.28,188.80 L353.47,189.24 L353.66,189.74 L353.85,190.17 L354.04,190.43 L354.23,190.46 L354.42,190.25 L354.62,189.85 L354.81,189.36 L355.00,188.89 L355.19,188.57 L355.38,188.45 L355.57,188.59 L355.76,188.93 L355.95,189.40 L356.14,189.89 L356.33,190.28 L356.52,190.47 L356.71,190.42 L356.90,190.14 L357.09,189.70 L357.28,189.20 L357.47,188.77 L357.66,188.50 L357.85,188.47 L358.04,188.68 L358.23,189.08 L358.42,189.57 L358.61,190.04 L358.80,190.37 L358.99,190.48 L359.18,190.35 L359.38,190.01 L359.57,189.53 L359.76,189.05 L359.95,188.66 L360.14,188.46 L360.33,188.51 L360.52,188.79 L360.71,189.23 L360.90,189.73 L361.09,190.16 L361.28,190.43 L361.47,190.46 L361.66,190.26 L361.85,189.86 L362.04,189.37 L362.23,188.90 L362.42,188.57 L362.61,188.45 L362.80,188.58 L362.99,188.92 L363.18,189.40 L363.37,189.89 L363.56,190.27 L363.75,190.47 L363.94,190.42 L364.14,190.15 L364.33,189.71 L364.52,189.21 L364.71,188.77 L364.90,188.50 L365.09,188.47 L365.28,188.67 L365.47,189.07 L365.66,189.56 L365.85,190.03 L366.04,190.36 L366.23,190.48 L366.42,190.35 L366.61,190.01 L366.80,189.54 L366.99,189.05 L367.18,188.66 L367.37,188.47 L367.56,188.51 L367.75,188.79 L367.94,189.22 L368.13,189.72 L368.32,190.16 L368.51,190.43 L368.70,190.47 L368.90,190.26 L369.09,189.87 L369.28,189.38 L369.47,188.91 L369.66,188.57 L369.85,188.45 L370.04,188.58 L370.23,188.92 L370.42,189.39 L370.61,189.88 L370.80,190.27 L370.99,190.47 L371.18,190.43 L371.37,190.15 L371.56,189.71 L371.75,189.22 L371.94,188.78 L372.13,188.51 L372.32,188.47 L372.51,188.67 L372.70,189.06 L372.89,189.55 L373.08,190.02 L373.27,190.36 L373.46,190.48 L373.66,190.36 L373.85,190.02 L374.04,189.55 L374.23,189.06 L374.42,188.67 L374.61,188.47 L374.80,188.51 L374.99,188.78 L375.18,189.22 L375.37,189.71 L375.56,190.15 L375.75,190.43 L375.94,190.47 L376.13,190.27 L376.32,189.88 L376.51,189.39 L376.70,188.92 L376.89,188.58 L377.08,188.45 L377.27,188.57 L377.46,188.91 L377.65,189.38 L377.84,189.87 L378.03,190.26 L378.22,190.47 L378.42,190.43 L378.61,190.16 L378.80,189.72 L378.99,189.22 L379.18,188.79 L379.37,188.51 L379.56,188.47 L379.75,188.66 L379.94,189.05 L380.13,189.54 L380.32,190.01 L380.51,190.35 L380.70,190.48 L380.89,190.36 L381.08,190.03 L381.27,189.56 L381.46,189.07 L381.65,188.67 L381.84,188.47 L382.03,188.50 L382.22,188.77 L382.41,189.21 L382.60,189.71 L382.79,190.15 L382.98,190.42 L383.18,190.47 L383.37,190.27 L383.56,189.89 L383.75,189.40 L383.94,188.92 L384.13,188.58 L384.32,188.45 L384.51,188.57 L384.70,188.90 L384.89,189.37 L385.08,189.86 L385.27,190.26 L385.46,190.46 L385.65,190.43 L385.84,190.16 L386.03,189.73 L386.22,189.23 L386.41,188.79 L386.60,188.51 L386.79,188.46 L386.98,188.66 L387.17,189.05 L387.36,189.53 L387.55,190.01 L387.74,190.35 L387.94,190.48 L388.13,190.37 L388.32,190.04 L388.51,189.57 L388.70,189.08 L388.89,188.68 L389.08,188.47 L389.27,188.50 L389.46,188.77 L389.65,189.20 L389.84,189.70 L390.03,190.14 L390.22,190.42 L390.41,190.47 L390.60,190.28 L390.79,189.89 L390.98,189.40 L391.17,188.93 L391.36,188.59 L391.55,188.45 L391.74,188.57 L391.93,188.89 L392.12,189.36 L392.31,189.85 L392.50,190.25 L392.70,190.46 L392.89,190.43 L393.08,190.17 L393.27,189.74 L393.46,189.24 L393.65,188.80 L393.84,188.52 L394.03,188.46 L394.22,188.65 L394.41,189.04 L394.60,189.53 L394.79,190.00 L394.98,190.35 L395.17,190.48 L395.36,190.37 L395.55,190.04 L395.74,189.58 L395.93,189.08 L396.12,188.68 L396.31,188.47 L396.50,188.50 L396.69,188.76 L396.88,189.19 L397.07,189.69 L397.26,190.13 L397.46,190.42 L397.65,190.47 L397.84,190.28 L398.03,189.90 L398.22,189.41 L398.41,188.94 L398.60,188.59 L398.79,188.45 L398.98,188.56 L399.17,188.89 L399.36,189.35 L399.55,189.85 L399.74,190.25 L399.93,190.46 L400.12,190.44 L400.31,190.18 L400.50,189.75 L400.69,189.25 L400.88,188.80 L401.07,188.52 L401.26,188.46 L401.45,188.65 L401.64,189.03 L401.83,189.52 L402.02,189.99 L402.22,190.34 L402.41,190.48 L402.60,190.37 L402.79,190.05 L402.98,189.59 L403.17,189.09 L403.36,188.69 L403.55,188.47 L403.74,188.50 L403.93,188.75 L404.12,189.18 L404.31,189.68 L404.50,190.13 L404.69,190.41 L404.88,190.47 L405.07,190.29 L405.26,189.91 L405.45,189.42 L405.64,188.94 L405.83,188.59 L406.02,188.45 L406.21,188.56 L406.40,188.88 L406.59,189.34 L406.78,189.84 L406.98,190.24 L407.17,190.46 L407.36,190.44 L407.55,190.18 L407.74,189.75 L407.93,189.26 L408.12,188.81 L408.31,188.52 L408.50,188.46 L408.69,188.64 L408.88,189.02 L409.07,189.51 L409.26,189.99 L409.45,190.34 L409.64,190.48 L409.83,190.38 L410.02,190.06 L410.21,189.59 L410.40,189.10 L410.59,188.69 L410.78,188.47 L410.97,188.49 L411.16,188.75 L411.35,189.18 L411.54,189.67 L411.74,190.12 L411.93,190.41 L412.12,190.47 L412.31,190.29 L412.50,189.92 L412.69,189.43 L412.88,188.95 L413.07,188.60 L413.26,188.45 L413.45,188.55 L413.64,188.87 L413.83,189.34 L414.02,189.83 L414.21,190.24 L414.40,190.46 L414.59,190.44 L414.78,190.19 L414.97,189.76 L415.16,189.27 L415.35,188.82 L415.54,188.53 L415.73,188.46 L415.92,188.64 L416.11,189.01 L416.30,189.50 L416.50,189.98 L416.69,190.33 L416.88,190.48 L417.07,190.38 L417.26,190.06 L417.45,189.60 L417.64,189.11 L417.83,188.70 L418.02,188.48 L418.21,188.49 L418.40,188.74 L418.59,189.17 L418.78,189.66 L418.97,190.11 L419.16,190.41 L419.35,190.47 L419.54,190.30 L419.73,189.92 L419.92,189.44 L420.11,188.96 L420.30,188.60 L420.49,188.45 L420.68,188.55 L420.87,188.87 L421.06,189.33 L421.26,189.82 L421.45,190.23 L421.64,190.46 L421.83,190.44 L422.02,190.19 L422.21,189.77 L422.40,189.27 L422.59,188.82 L422.78,188.53 L422.97,188.46 L423.16,188.63 L423.35,189.01 L423.54,189.49 L423.73,189.97 L423.92,190.33 L424.11,190.48 L424.30,190.39 L424.49,190.07 L424.68,189.61 L424.87,189.12 L425.06,188.71 L425.25,188.48 L425.44,188.49 L425.63,188.74 L425.82,189.16 L426.02,189.66 L426.21,190.11 L426.40,190.40 L426.59,190.48 L426.78,190.30 L426.97,189.93 L427.16,189.45 L427.35,188.97 L427.54,188.61 L427.73,188.45 L427.92,188.55 L428.11,188.86 L428.30,189.32 L428.49,189.81 L428.68,190.23 L428.87,190.45 L429.06,190.45 L429.25,190.20 L429.44,189.78 L429.63,189.28 L429.82,188.83 L430.01,188.53 L430.20,188.46 L430.39,188.63 L430.58,189.00 L430.78,189.48 L430.97,189.96 L431.16,190.32 L431.35,190.48 L431.54,190.39 L431.73,190.08 L431.92,189.62 L432.11,189.12 L432.30,188.71 L432.49,188.48 L432.68,188.49 L432.87,188.73 L433.06,189.15 L433.25,189.65 L433.44,190.10 L433.63,190.40 L433.82,190.48 L434.01,190.31 L434.20,189.94 L434.39,189.45 L434.58,188.97 L434.77,188.61 L434.96,188.46 L435.15,188.54 L435.34,188.85 L435.54,189.31 L435.73,189.81 L435.92,190.22 L436.11,190.45 L436.30,190.45 L436.49,190.21 L436.68,189.79 L436.87,189.29 L437.06,188.84 L437.25,188.53 L437.44,188.46 L437.63,188.62 L437.82,188.99 L438.01,189.48 L438.20,189.96 L438.39,190.32 L438.58,190.48 L438.77,190.39 L438.96,190.08 L439.15,189.63 L439.34,189.13 L439.53,188.72 L439.72,188.48 L439.91,188.49 L440.10,188.73 L440.30,189.14 L440.49,189.64 L440.68,190.09 L440.87,190.40 L441.06,190.48 L441.25,190.31 L441.44,189.95 L441.63,189.46 L441.82,188.98 L442.01,188.62 L442.20,188.46 L442.39,188.54 L442.58,188.85 L442.77,189.30 L442.96,189.80 L443.15,190.21 L443.34,190.45 L443.53,190.45 L443.72,190.21 L443.91,189.79 L444.10,189.30 L444.29,188.84 L444.48,188.54 L444.67,188.46 L444.86,188.62 L445.06,188.98 L445.25,189.47 L445.44,189.95 L445.63,190.32 L445.82,190.48 L446.01,190.40 L446.20,190.09 L446.39,189.64 L446.58,189.14 L446.77,188.72 L446.96,188.48 L447.15,188.48 L447.34,188.72 L447.53,189.14 L447.72,189.63 L447.91,190.09 L448.10,190.39 L448.29,190.48 L448.48,190.32 L448.67,189.95 L448.86,189.47 L449.05,188.99 L449.24,188.62 L449.43,188.46 L449.62,188.54 L449.82,188.84 L450.01,189.29 L450.20,189.79 L450.39,190.21 L450.58,190.45 L450.77,190.45 L450.96,190.22 L451.15,189.80 L451.34,189.31 L451.53,188.85 L451.72,188.54 L451.91,188.46 L452.10,188.61 L452.29,188.98 L452.48,189.46 L452.67,189.94 L452.86,190.31 L453.05,190.48 L453.24,190.40 L453.43,190.10 L453.62,189.64 L453.81,189.15 L454.00,188.73 L454.19,188.49 L454.38,188.48 L454.58,188.71 L454.77,189.13 L454.96,189.62 L455.15,190.08 L455.34,190.39 L455.53,190.48 L455.72,190.32 L455.91,189.96 L456.10,189.48 L456.29,189.00 L456.48,188.63 L456.67,188.46 L456.86,188.53 L457.05,188.83 L457.24,189.29 L457.43,189.78 L457.62,190.20 L457.81,190.45 L458.00,190.45 L458.19,190.22 L458.38,189.81 L458.57,189.32 L458.76,188.86 L458.95,188.54 L459.14,188.46 L459.34,188.61 L459.53,188.97 L459.72,189.45 L459.91,189.93 L460.10,190.31 L460.29,190.48 L460.48,190.40 L460.67,190.10 L460.86,189.65 L461.05,189.16 L461.24,188.73 L461.43,188.49 L461.62,188.48 L461.81,188.71 L462.00,189.12 L462.19,189.61 L462.38,190.07 L462.57,190.39 L462.76,190.48 L462.95,190.33 L463.14,189.97 L463.33,189.49 L463.52,189.00 L463.71,188.63 L463.90,188.46 L464.10,188.53 L464.29,188.83 L464.48,189.28 L464.67,189.77 L464.86,190.20 L465.05,190.44 L465.24,190.46 L465.43,190.23 L465.62,189.82 L465.81,189.32 L466.00,188.86 L466.19,188.55 L466.38,188.45 L466.57,188.60 L466.76,188.96 L466.95,189.44 L467.14,189.93 L467.33,190.30 L467.52,190.48 L467.71,190.41 L467.90,190.11 L468.09,189.66 L468.28,189.16 L468.47,188.74 L468.66,188.49 L468.86,188.48 L469.05,188.70 L469.24,189.11 L469.43,189.61 L469.62,190.07 L469.81,190.38 L470.00,190.48 L470.19,190.33 L470.38,189.98 L470.57,189.50 L470.76,189.01 L470.95,188.63 L471.14,188.46 L471.33,188.53 L471.52,188.82 L471.71,189.27 L471.90,189.77 L472.09,190.19 L472.28,190.44 L472.47,190.46 L472.66,190.23 L472.85,189.83 L473.04,189.33 L473.23,188.87 L473.42,188.55 L473.62,188.45 L473.81,188.60 L474.00,188.96 L474.19,189.43 L474.38,189.92 L474.57,190.30 L474.76,190.47 L474.95,190.41 L475.14,190.12 L475.33,189.67 L475.52,189.17 L475.71,188.75 L475.90,188.49 L476.09,188.48 L476.28,188.70 L476.47,189.10 L476.66,189.60 L476.85,190.06 L477.04,190.38 L477.23,190.48 L477.42,190.34 L477.61,189.98 L477.80,189.51 L477.99,189.02 L478.18,188.64 L478.38,188.46 L478.57,188.52 L478.76,188.81 L478.95,189.26 L479.14,189.76 L479.33,190.19 L479.52,190.44 L479.71,190.46 L479.90,190.24 L480.09,189.83 L480.28,189.34 L480.47,188.88 L480.66,188.56 L480.85,188.45 L481.04,188.60 L481.23,188.95 L481.42,189.42 L481.61,189.91 L481.80,190.29 L481.99,190.47 L482.18,190.41 L482.37,190.12 L482.56,189.68 L482.75,189.18 L482.94,188.75 L483.14,188.50 L483.33,188.47 L483.52,188.69 L483.71,189.10 L483.90,189.59 L484.09,190.05 L484.28,190.38 L484.47,190.48 L484.66,190.34 L484.85,189.99 L485.04,189.51 L485.23,189.03 L485.42,188.64 L485.61,188.46 L485.80,188.52 L485.99,188.81 L486.18,189.25 L486.37,189.75 L486.56,190.18 L486.75,190.44 L486.94,190.46 L487.13,190.25 L487.32,189.84 L487.51,189.35 L487.70,188.88 L487.90,188.56 L488.09,188.45 L488.28,188.59 L488.47,188.94 L488.66,189.42 L488.85,189.90 L489.04,190.29 L489.23,190.47 L489.42,190.42 L489.61,190.13 L489.80,189.68 L489.99,189.19 L490.18,188.76 L490.37,188.50 L490.56,188.47 L490.75,188.69 L490.94,189.09 L491.13,189.58 L491.32,190.05 L491.51,190.37 L491.70,190.48 L491.89,190.34 L492.08,190.00 L492.27,189.52 L492.46,189.03 L492.66,188.65 L492.85,188.46 L493.04,188.52 L493.23,188.80 L493.42,189.24 L493.61,189.74 L493.80,190.17 L493.99,190.43 L494.18,190.46 L494.37,190.25 L494.56,189.85 L494.75,189.36 L494.94,188.89 L495.13,188.56 L495.32,188.45 L495.51,188.59 L495.70,188.93 L495.89,189.41 L496.08,189.90 L496.27,190.28 L496.46,190.47 L496.65,190.42 L496.84,190.14 L497.03,189.69 L497.22,189.20 L497.42,188.76 L497.61,188.50 L497.80,188.47 L497.99,188.68 L498.18,189.08 L498.37,189.57 L498.56,190.04 L498.75,190.37 L498.94,190.48 L499.13,190.35 L499.32,190.00 L499.51,189.53 L499.70,189.04" stroke="#1f62d8" stroke-width="1.15"/>
<path d="M249.27,335.60 L249.52,312.20 L252.18,198.32 L252.37,198.05" stroke="#2aa660" stroke-width="1.15"/>
<path d="M252.18,198.32 L252.37,198.05 L252.56,197.78 L252.75,197.51 L252.94,197.25 L253.13,196.99 L253.32,196.72 L253.51,196.44 L253.70,196.16 L253.89,195.87 L254.08,195.57 L254.27,195.26 L254.46,194.95 L254.66,194.63 L254.85,194.31 L255.04,193.99 L255.23,193.67 L255.42,193.36 L255.61,193.06 L255.80,192.78 L255.99,192.52 L256.18,192.28 L256.37,192.06 L256.56,191.88 L256.75,191.72 L256.94,191.60 L257.13,191.51 L257.32,191.45 L257.51,191.43 L257.70,191.43 L257.89,191.47 L258.08,191.53 L258.27,191.61 L258.46,191.70 L258.65,191.81 L258.84,191.92 L259.03,192.03 L259.22,192.12 L259.42,192.21 L259.61,192.27 L259.80,192.31 L259.99,192.32 L260.18,192.29 L260.37,192.22 L260.56,192.09 L260.75,191.89 L260.94,191.66 L261.13,191.39 L261.32,191.09 L261.51,190.76 L261.70,190.42 L261.89,190.06 L262.08,189.69 L262.27,189.33 L262.46,188.97 L262.65,188.62 L262.84,188.29 L263.03,187.98 L263.22,187.71 L263.41,187.47 L263.60,187.27 L263.79,187.11 L263.98,186.99 L264.18,186.93 L264.37,186.90 L264.56,186.93 L264.75,186.99 L264.94,187.10 L265.13,187.25 L265.32,187.43 L265.51,187.63 L265.70,187.86 L265.89,188.10 L266.08,188.35 L266.27,188.61 L266.46,188.86 L266.65,189.10 L266.84,189.32 L267.03,189.52 L267.22,189.69 L267.41,189.83 L267.60,189.93 L267.79,189.99 L267.98,190.01 L268.17,189.98 L268.36,189.91 L268.55,189.80 L268.74,189.64 L268.94,189.45 L269.13,189.22 L269.32,188.97 L269.51,188.69 L269.70,188.39 L269.89,188.08 L270.08,187.76 L270.27,187.45 L270.46,187.14 L270.65,186.85 L270.84,186.57 L271.03,186.33 L271.22,186.11 L271.41,185.93 L271.60,185.79 L271.79,185.69 L271.98,185.64 L272.17,185.63 L272.36,185.67 L272.55,185.75 L272.74,185.87 L272.93,186.03 L273.12,186.22 L273.31,186.45 L273.50,186.69 L273.70,186.96 L273.89,187.24 L274.08,187.52 L274.27,187.80 L274.46,188.07 L274.65,188.33 L274.84,188.57 L275.03,188.78 L275.22,188.95 L275.41,189.10 L275.60,189.20 L275.79,189.26 L275.98,189.28 L276.17,189.25 L276.36,189.18 L276.55,189.06 L276.74,188.91 L276.93,188.72 L277.12,188.50 L277.31,188.24 L277.50,187.97 L277.69,187.68 L277.88,187.38 L278.07,187.08 L278.26,186.78 L278.46,186.50 L278.65,186.23 L278.84,185.98 L279.03,185.76 L279.22,185.57 L279.41,185.43 L279.60,185.32 L279.79,185.25 L279.98,185.23 L280.17,185.26 L280.36,185.33 L280.55,185.44 L280.74,185.59 L280.93,185.78 L281.12,185.99 L281.31,186.24 L281.50,186.51 L281.69,186.79 L281.88,187.08 L282.07,187.37 L282.26,187.65 L282.45,187.93 L282.64,188.18 L282.83,188.41 L283.02,188.62 L283.22,188.78 L283.41,188.92 L283.60,189.00 L283.79,189.05 L283.98,189.05 L284.17,189.01 L284.36,188.92 L284.55,188.79 L284.74,188.63 L284.93,188.43 L285.12,188.19 L285.31,187.94 L285.50,187.66 L285.69,187.37 L285.88,187.07 L286.07,186.78 L286.26,186.49 L286.45,186.21 L286.64,185.96 L286.83,185.73 L287.02,185.53 L287.21,185.36 L287.40,185.24 L287.59,185.16 L287.78,185.12 L287.98,185.12 L288.17,185.17 L288.36,185.26 L288.55,185.40 L288.74,185.57 L288.93,185.78 L289.12,186.01 L289.31,186.27 L289.50,186.55 L289.69,186.84 L289.88,187.13 L290.07,187.42 L290.26,187.70 L290.45,187.97 L290.64,188.22 L290.83,188.44 L291.02,188.63 L291.21,188.78 L291.40,188.89 L291.59,188.96 L291.78,188.99 L291.97,188.97 L292.16,188.91 L292.35,188.80 L292.54,188.66 L292.74,188.48 L292.93,188.26 L293.12,188.02 L293.31,187.75 L293.50,187.47 L293.69,187.18 L293.88,186.88 L294.07,186.59 L294.26,186.31 L294.45,186.04 L294.64,185.80 L294.83,185.58 L295.02,185.40 L295.21,185.26 L295.40,185.15 L295.59,185.09 L295.78,185.08 L295.97,185.10 L296.16,185.18 L296.35,185.29 L296.54,185.44 L296.73,185.63 L296.92,185.86 L297.11,186.10 L297.30,186.37 L297.50,186.66 L297.69,186.95 L297.88,187.24 L298.07,187.53 L298.26,187.81 L298.45,188.07 L298.64,188.31 L298.83,188.51 L299.02,188.68 L299.21,188.82 L299.40,188.91 L299.59,188.96 L299.78,188.97 L299.97,188.93 L300.16,188.84 L300.35,188.72 L300.54,188.56 L300.73,188.36 L300.92,188.13 L301.11,187.87 L301.30,187.60 L301.49,187.31 L301.68,187.02 L301.87,186.72 L302.06,186.43 L302.26,186.16 L302.45,185.91 L302.64,185.68 L302.83,185.48 L303.02,185.31 L303.21,185.19 L303.40,185.11 L303.59,185.07 L303.78,185.07 L303.97,185.12 L304.16,185.22 L304.35,185.35 L304.54,185.52 L304.73,185.73 L304.92,185.96 L305.11,186.22 L305.30,186.50 L305.49,186.79 L305.68,187.09 L305.87,187.38 L306.06,187.66 L306.25,187.93 L306.44,188.18 L306.63,188.40 L306.82,188.59 L307.02,188.75 L307.21,188.86 L307.40,188.93 L307.59,188.96 L307.78,188.95 L307.97,188.89 L308.16,188.78 L308.35,188.64 L308.54,188.46 L308.73,188.24 L308.92,188.00 L309.11,187.74 L309.30,187.45 L309.49,187.16 L309.68,186.87 L309.87,186.58 L310.06,186.29 L310.25,186.03 L310.44,185.79 L310.63,185.57 L310.82,185.39 L311.01,185.25 L311.20,185.14 L311.39,185.08 L311.58,185.06 L311.78,185.09 L311.97,185.16 L312.16,185.27 L312.35,185.43 L312.54,185.62 L312.73,185.84 L312.92,187.34 L313.11,187.03 L313.30,186.73 L313.49,186.44 L313.68,186.18 L313.87,185.94 L314.06,185.72 L314.25,185.55 L314.44,185.41 L314.63,185.31 L314.82,185.25 L315.01,185.23 L315.20,185.26 L315.39,185.33 L315.58,185.44 L315.77,185.59 L315.96,185.77 L316.15,185.99 L316.34,186.24 L316.54,186.51 L316.73,186.80 L316.92,187.10 L317.11,187.41 L317.30,187.48 L317.49,187.48 L317.68,187.48 L317.87,187.48 L318.06,187.48 L318.25,187.48 L318.44,187.48 L318.63,187.48 L318.82,187.48 L319.01,187.24 L319.20,187.00 L319.39,186.76 L319.58,186.55 L319.77,186.35 L319.96,186.17 L320.15,186.01 L320.34,185.89 L320.53,185.79 L320.72,185.73 L320.91,185.70 L321.10,185.71 L321.30,185.75 L321.49,185.82 L321.68,185.92 L321.87,186.06 L322.06,186.22 L322.25,186.41 L322.44,186.61 L322.63,186.84 L322.82,187.07 L323.01,187.31 L323.20,187.48 L323.39,187.48 L323.58,187.48 L323.77,187.48 L323.96,187.48 L324.15,187.48 L324.34,187.48 L324.53,187.48 L324.72,187.48 L324.91,187.25 L325.10,186.82 L325.29,186.40 L325.48,186.00 L325.67,185.63 L325.86,185.30 L326.06,185.01 L326.25,184.76 L326.44,184.57 L326.63,184.43 L326.82,184.36 L327.01,184.34 L327.20,184.38 L327.39,184.48 L327.58,184.64 L327.77,184.85 L327.96,185.12 L328.15,185.43 L328.34,185.77 L328.53,186.16 L328.72,186.56 L328.91,186.99 L329.10,187.42 L329.29,187.48 L329.48,187.48 L329.67,187.48 L329.86,187.48 L330.05,187.48 L330.24,187.48 L330.43,187.48 L330.62,187.48 L330.82,187.47 L331.01,187.25 L331.20,187.04 L331.39,186.83 L331.58,186.64 L331.77,186.47 L331.96,186.31 L332.15,186.18 L332.34,186.07 L332.53,185.99 L332.72,185.94 L332.91,185.92 L333.10,185.92 L333.29,185.96 L333.48,186.03 L333.67,186.12 L333.86,186.24 L334.05,186.38 L334.24,186.55 L334.43,186.73 L334.62,186.93 L334.81,187.14 L335.00,187.35 L335.19,187.48 L335.38,187.48 L335.58,187.48 L335.77,187.48 L335.96,187.48 L336.15,187.48 L336.34,187.48 L336.53,187.48 L336.72,187.48 L336.91,187.24 L337.10,186.86 L337.29,186.48 L337.48,186.13 L337.67,185.79 L337.86,185.50 L338.05,185.24 L338.24,185.02 L338.43,184.85 L338.62,184.73 L338.81,184.66 L339.00,184.65 L339.19,184.69 L339.38,184.79 L339.57,184.94 L339.76,185.13 L339.95,185.37 L340.14,185.65 L340.34,185.97 L340.53,186.31 L340.72,186.68 L340.91,187.07 L341.10,187.46 L341.29,187.48 L341.48,187.48 L341.67,187.48 L341.86,187.48 L342.05,187.48 L342.24,187.48 L342.43,187.48 L342.62,187.48 L342.81,187.43 L343.00,187.11 L343.19,186.79 L343.38,186.48 L343.57,186.20 L343.76,185.93 L343.95,185.70 L344.14,185.50 L344.33,185.34 L344.52,185.22 L344.71,185.15 L344.90,185.12 L345.10,185.13 L345.29,185.19 L345.48,185.29 L345.67,185.44 L345.86,185.62 L346.05,185.84 L346.24,186.09 L346.43,186.37 L346.62,186.67 L346.81,186.98 L347.00,187.31 L347.19,187.48 L347.38,187.48 L347.57,187.48 L347.76,187.48 L347.95,187.48 L348.14,187.48 L348.33,187.48 L348.52,187.48 L348.71,187.48 L348.90,187.34 L349.09,187.13 L349.28,186.93 L349.47,186.74 L349.66,186.56 L349.86,186.40 L350.05,186.26 L350.24,186.15 L350.43,186.06 L350.62,185.99 L350.81,185.96 L351.00,185.96 L351.19,185.98 L351.38,186.03 L351.57,186.12 L351.76,186.22 L351.95,186.35 L352.14,186.51 L352.33,186.68 L352.52,186.87 L352.71,187.06 L352.90,187.27 L353.09,187.48 L353.28,187.48 L353.47,187.48 L353.66,187.48 L353.85,187.48 L354.04,187.48 L354.23,187.48 L354.42,187.48 L354.62,187.48 L354.81,187.40 L355.00,187.02 L355.19,186.65 L355.38,186.29 L355.57,185.96 L355.76,185.66 L355.95,185.39 L356.14,185.16 L356.33,184.98 L356.52,184.85 L356.71,184.76 L356.90,184.73 L357.09,184.75 L357.28,184.82 L357.47,184.94 L357.66,185.12 L357.85,185.33 L358.04,185.59 L358.23,185.89 L358.42,186.21 L358.61,186.56 L358.80,186.93 L358.99,187.31 L359.18,187.48 L359.38,187.48 L359.57,187.48 L359.76,187.48 L359.95,187.48 L360.14,187.48 L360.33,187.48 L360.52,187.48 L360.71,187.48 L360.90,187.33 L361.09,187.13 L361.28,186.93 L361.47,186.75 L361.66,186.58 L361.85,186.43 L362.04,186.30 L362.23,186.19 L362.42,186.10 L362.61,186.05 L362.80,186.02 L362.99,186.01 L363.18,186.04 L363.37,186.09 L363.56,186.17 L363.75,186.28 L363.94,186.41 L364.14,186.56 L364.33,186.72 L364.52,186.90 L364.71,187.09 L364.90,187.29 L365.09,187.48 L365.28,187.48 L365.47,187.48 L365.66,187.48 L365.85,187.48 L366.04,187.48 L366.23,187.48 L366.42,187.48 L366.61,187.48 L366.80,187.38 L366.99,187.03 L367.18,186.68 L367.37,186.36 L367.56,186.05 L367.75,185.77 L367.94,185.53 L368.13,185.32 L368.32,185.15 L368.51,185.03 L368.70,184.96 L368.90,184.93 L369.09,184.95 L369.28,185.02 L369.47,185.14 L369.66,185.30 L369.85,185.51 L370.04,185.75 L370.23,186.03 L370.42,186.33 L370.61,186.66 L370.80,187.00 L370.99,187.35 L371.18,187.48 L371.37,187.48 L371.56,187.48 L371.75,187.48 L371.94,187.48 L372.13,187.48 L372.32,187.48 L372.51,187.48 L372.70,187.48 L372.89,187.40 L373.08,187.31 L373.27,187.22 L373.46,187.14 L373.66,187.06 L373.85,187.00 L374.04,186.94 L374.23,186.89 L374.42,186.85 L374.61,186.83 L374.80,186.81 L374.99,186.81 L375.18,186.83 L375.37,186.85 L375.56,186.89 L375.75,186.94 L375.94,187.00 L376.13,187.06 L376.32,187.14 L376.51,187.22 L376.70,187.31 L376.89,187.40 L377.08,187.48 L377.27,187.48 L377.46,187.48 L377.65,187.48 L377.84,187.48 L378.03,187.48 L378.22,187.48 L378.42,187.48 L378.61,187.48 L378.80,187.44 L378.99,187.35 L379.18,187.26 L379.37,187.17 L379.56,187.08 L379.75,187.01 L379.94,186.94 L380.13,186.89 L380.32,186.84 L380.51,186.81 L380.70,186.79 L380.89,186.79 L381.08,186.79 L381.27,186.81 L381.46,186.85 L381.65,186.89 L381.84,186.95 L382.03,187.02 L382.22,187.09 L382.41,187.17 L382.60,187.26 L382.79,187.35 L382.98,187.45 L383.18,187.48 L383.37,187.48 L383.56,187.48 L383.75,187.48 L383.94,187.48 L384.13,187.48 L384.32,187.48 L384.51,187.48 L384.70,187.48 L384.89,187.34 L385.08,187.20 L385.27,187.05 L385.46,186.92 L385.65,186.80 L385.84,186.69 L386.03,186.59 L386.22,186.52 L386.41,186.46 L386.60,186.42 L386.79,186.40 L386.98,186.40 L387.17,186.42 L387.36,186.46 L387.55,186.53 L387.74,186.61 L387.94,186.70 L388.13,186.82 L388.32,186.94 L388.51,187.07 L388.70,187.22 L388.89,187.37 L389.08,187.48 L389.27,187.48 L389.46,187.48 L389.65,187.48 L389.84,187.48 L390.03,187.48 L390.22,187.48 L390.41,187.48 L390.60,187.48 L390.79,187.38 L390.98,187.17 L391.17,186.96 L391.36,186.77 L391.55,186.58 L391.74,186.42 L391.93,186.27 L392.12,186.15 L392.31,186.05 L392.50,185.98 L392.70,185.94 L392.89,185.93 L393.08,185.94 L393.27,185.99 L393.46,186.07 L393.65,186.17 L393.84,186.30 L394.03,186.45 L394.22,186.62 L394.41,186.81 L394.60,187.01 L394.79,187.22 L394.98,187.43 L395.17,187.48 L395.36,187.48 L395.55,187.48 L395.74,187.48 L395.93,187.48 L396.12,187.48 L396.31,187.48 L396.50,187.48 L396.69,187.48 L396.88,187.38 L397.07,187.28 L397.26,187.19 L397.46,187.10 L397.65,187.01 L397.84,186.94 L398.03,186.88 L398.22,186.83 L398.41,186.79 L398.60,186.76 L398.79,186.75 L398.98,186.75 L399.17,186.77 L399.36,186.80 L399.55,186.84 L399.74,186.89 L399.93,186.96 L400.12,187.04 L400.31,187.12 L400.50,187.21 L400.69,187.31 L400.88,187.41 L401.07,187.48 L401.26,187.48 L401.45,187.48 L401.64,187.48 L401.83,187.48 L402.02,187.48 L402.22,187.48 L402.41,187.48 L402.60,187.48 L402.79,187.42 L402.98,187.30 L403.17,187.19 L403.36,187.08 L403.55,186.98 L403.74,186.89 L403.93,186.81 L404.12,186.75 L404.31,186.70 L404.50,186.66 L404.69,186.64 L404.88,186.63 L405.07,186.64 L405.26,186.67 L405.45,186.71 L405.64,186.77 L405.83,186.84 L406.02,186.92 L406.21,187.02 L406.40,187.12 L406.59,187.23 L406.78,187.34 L406.98,187.46 L407.17,187.48 L407.36,187.48 L407.55,187.48 L407.74,187.48 L407.93,187.48 L408.12,187.48 L408.31,187.48 L408.50,187.48 L408.69,187.47 L408.88,187.29 L409.07,187.11 L409.26,186.94 L409.45,186.78 L409.64,186.63 L409.83,186.50 L410.02,186.38 L410.21,186.29 L410.40,186.22 L410.59,186.18 L410.78,186.16 L410.97,186.17 L411.16,186.20 L411.35,186.25 L411.54,186.33 L411.74,186.43 L411.93,186.55 L412.12,186.69 L412.31,186.85 L412.50,187.01 L412.69,187.19 L412.88,187.37 L413.07,187.48 L413.26,187.48 L413.45,187.48 L413.64,187.48 L413.83,187.48 L414.02,187.48 L414.21,187.48 L414.40,187.48 L414.59,187.48 L414.78,187.34 L414.97,187.11 L415.16,186.88 L415.35,186.67 L415.54,186.47 L415.73,186.29 L415.92,186.14 L416.11,186.01 L416.30,185.90 L416.50,185.83 L416.69,185.79 L416.88,185.79 L417.07,185.81 L417.26,185.87 L417.45,185.95 L417.64,186.07 L417.83,186.22 L418.02,186.38 L418.21,186.57 L418.40,186.78 L418.59,187.00 L418.78,187.23 L418.97,187.46 L419.16,187.48 L419.35,187.48 L419.54,187.48 L419.73,187.48 L419.92,187.48 L420.11,187.48 L420.30,187.48 L420.49,187.48 L420.68,187.46 L420.87,187.28 L421.06,187.11 L421.26,186.95 L421.45,186.80 L421.64,186.66 L421.83,186.53 L422.02,186.43 L422.21,186.34 L422.40,186.28 L422.59,186.24 L422.78,186.22 L422.97,186.23 L423.16,186.26 L423.35,186.31 L423.54,186.39 L423.73,186.49 L423.92,186.60 L424.11,186.74 L424.30,186.89 L424.49,187.05 L424.68,187.21 L424.87,187.39 L425.06,187.48 L425.25,187.48 L425.44,187.48 L425.63,187.48 L425.82,187.48 L426.02,187.48 L426.21,187.48 L426.40,187.48 L426.59,187.48 L426.78,187.38 L426.97,187.24 L427.16,187.10 L427.35,186.97 L427.54,186.85 L427.73,186.74 L427.92,186.64 L428.11,186.56 L428.30,186.50 L428.49,186.46 L428.68,186.43 L428.87,186.43 L429.06,186.45 L429.25,186.48 L429.44,186.54 L429.63,186.61 L429.82,186.70 L430.01,186.81 L430.20,186.93 L430.39,187.06 L430.58,187.19 L430.78,187.33 L430.97,187.48 L431.16,187.48 L431.35,187.48 L431.54,187.48 L431.73,187.48 L431.92,187.48 L432.11,187.48 L432.30,187.48 L432.49,187.48 L432.68,187.43 L432.87,187.19 L433.06,186.96 L433.25,186.74 L433.44,186.53 L433.63,186.34 L433.82,186.17 L434.01,186.03 L434.20,185.91 L434.39,185.83 L434.58,185.77 L434.77,185.75 L434.96,185.76 L435.15,185.81 L435.34,185.89 L435.54,185.99 L435.73,186.13 L435.92,186.29 L436.11,186.48 L436.30,186.68 L436.49,186.90 L436.68,187.13 L436.87,187.37 L437.06,187.48 L437.25,187.48 L437.44,187.48 L437.63,187.48 L437.82,187.48 L438.01,187.48 L438.20,187.48 L438.39,187.48 L438.58,187.48 L438.77,187.41 L438.96,187.33 L439.15,187.24 L439.34,187.16 L439.53,187.09 L439.72,187.02 L439.91,186.96 L440.10,186.92 L440.30,186.88 L440.49,186.85 L440.68,186.84 L440.87,186.84 L441.06,186.85 L441.25,186.87 L441.44,186.91 L441.63,186.95 L441.82,187.01 L442.01,187.08 L442.20,187.15 L442.39,187.23 L442.58,187.31 L442.77,187.40 L442.96,187.48 L443.15,187.48 L443.34,187.48 L443.53,187.48 L443.72,187.48 L443.91,187.48 L444.10,187.48 L444.29,187.48 L444.48,187.48 L444.67,187.42 L444.86,187.20 L445.06,186.98 L445.25,186.78 L445.44,186.59 L445.63,186.42 L445.82,186.26 L446.01,186.13 L446.20,186.03 L446.39,185.95 L446.58,185.91 L446.77,185.89 L446.96,185.90 L447.15,185.95 L447.34,186.02 L447.53,186.12 L447.72,186.25 L447.91,186.40 L448.10,186.57 L448.29,186.76 L448.48,186.96 L448.67,187.18 L448.86,187.40 L449.05,187.48 L449.24,187.48 L449.43,187.48 L449.62,187.48 L449.82,187.48 L450.01,187.48 L450.20,187.48 L450.39,187.48 L450.58,187.48 L450.77,187.30 L450.96,187.09 L451.15,186.89 L451.34,186.70 L451.53,186.52 L451.72,186.37 L451.91,186.23 L452.10,186.12 L452.29,186.03 L452.48,185.97 L452.67,185.94 L452.86,185.94 L453.05,185.97 L453.24,186.03 L453.43,186.11 L453.62,186.23 L453.81,186.36 L454.00,186.52 L454.19,186.70 L454.38,186.89 L454.58,187.09 L454.77,187.30 L454.96,187.48 L455.15,187.48 L455.34,187.48 L455.53,187.48 L455.72,187.48 L455.91,187.48 L456.10,187.48 L456.29,187.48 L456.48,187.48 L456.67,187.42 L456.86,187.24 L457.05,187.08 L457.24,186.91 L457.43,186.76 L457.62,186.63 L457.81,186.51 L458.00,186.41 L458.19,186.33 L458.38,186.27 L458.57,186.23 L458.76,186.22 L458.95,186.23 L459.14,186.27 L459.34,186.33 L459.53,186.41 L459.72,186.51 L459.91,186.64 L460.10,186.77 L460.29,186.92 L460.48,187.08 L460.67,187.25 L460.86,187.43 L461.05,187.48 L461.24,187.48 L461.43,187.48 L461.62,187.48 L461.81,187.48 L462.00,187.48 L462.19,187.48 L462.38,187.48 L462.57,187.48 L462.76,187.33 L462.95,187.17 L463.14,187.01 L463.33,186.86 L463.52,186.72 L463.71,186.60 L463.90,186.49 L464.10,186.41 L464.29,186.34 L464.48,186.30 L464.67,186.28 L464.86,186.28 L465.05,186.30 L465.24,186.35 L465.43,186.42 L465.62,186.51 L465.81,186.61 L466.00,186.74 L466.19,186.88 L466.38,187.03 L466.57,187.19 L466.76,187.35 L466.95,187.48 L467.14,187.48 L467.33,187.48 L467.52,187.48 L467.71,187.48 L467.90,187.48 L468.09,187.48 L468.28,187.48 L468.47,187.48 L468.66,187.38 L468.86,187.17 L469.05,186.96 L469.24,186.76 L469.43,186.57 L469.62,186.40 L469.81,186.25 L470.00,186.13 L470.19,186.03 L470.38,185.96 L470.57,185.91 L470.76,185.90 L470.95,185.92 L471.14,185.97 L471.33,186.05 L471.52,186.15 L471.71,186.28 L471.90,186.43 L472.09,186.61 L472.28,186.80 L472.47,187.00 L472.66,187.21 L472.85,187.43 L473.04,187.48 L473.23,187.48 L473.42,187.48 L473.62,187.48 L473.81,187.48 L474.00,187.48 L474.19,187.48 L474.38,187.48 L474.57,187.48 L474.76,187.14 L474.95,186.79 L475.14,186.45 L475.33,186.14 L475.52,185.85 L475.71,185.59 L475.90,185.37 L476.09,185.19 L476.28,185.05 L476.47,184.96 L476.66,184.91 L476.85,184.92 L477.04,184.98 L477.23,185.08 L477.42,185.23 L477.61,185.42 L477.80,185.66 L477.99,185.92 L478.18,186.22 L478.38,186.54 L478.57,186.88 L478.76,187.23 L478.95,187.48 L479.14,187.48 L479.33,187.48 L479.52,187.48 L479.71,187.48 L479.90,187.48 L480.09,187.48 L480.28,187.48 L480.47,187.48 L480.66,187.39 L480.85,187.20 L481.04,187.03 L481.23,186.86 L481.42,186.70 L481.61,186.56 L481.80,186.44 L481.99,186.33 L482.18,186.25 L482.37,186.19 L482.56,186.16 L482.75,186.15 L482.94,186.17 L483.14,186.21 L483.33,186.28 L483.52,186.37 L483.71,186.48 L483.90,186.61 L484.09,186.76 L484.28,186.92 L484.47,187.09 L484.66,187.27 L484.85,187.45 L485.04,187.48 L485.23,187.48 L485.42,187.48 L485.61,187.48 L485.80,187.48 L485.99,187.48 L486.18,187.48 L486.37,187.48 L486.56,187.47 L486.75,187.17 L486.94,186.89 L487.13,186.61 L487.32,186.36 L487.51,186.12 L487.70,185.91 L487.90,185.73 L488.09,185.58 L488.28,185.47 L488.47,185.40 L488.66,185.37 L488.85,185.38 L489.04,185.43 L489.23,185.52 L489.42,185.64 L489.61,185.80 L489.80,186.00 L489.99,186.22 L490.18,186.47 L490.37,186.73 L490.56,187.01 L490.75,187.30 L490.94,187.48 L491.13,187.48 L491.32,187.48 L491.51,187.48 L491.70,187.48 L491.89,187.48 L492.08,187.48 L492.27,187.48 L492.46,187.48 L492.66,187.30 L492.85,187.00 L493.04,186.70 L493.23,186.42 L493.42,186.16 L493.61,185.93 L493.80,185.72 L493.99,185.55 L494.18,185.42 L494.37,185.32 L494.56,185.27 L494.75,185.26 L494.94,185.29 L495.13,185.36 L495.32,185.48 L495.51,185.63 L495.70,185.82 L495.89,186.04 L496.08,186.29 L496.27,186.56 L496.46,186.85 L496.65,187.15 L496.84,187.46 L497.03,187.48 L497.22,187.48 L497.42,187.48 L497.61,187.48 L497.80,187.48 L497.99,187.48 L498.18,187.48 L498.37,187.48 L498.56,187.45 L498.75,187.22 L498.94,186.99 L499.13,186.77 L499.32,186.56 L499.51,186.37 L499.70,186.20" stroke="#2aa660" stroke-width="1.5"/>
<path d="M252.20,198.30 C252.50,197.73 253.48,195.68 254.00,194.90 C254.52,194.12 254.83,193.65 255.30,193.60 C255.77,193.55 256.23,195.38 256.80,194.60 C257.37,193.82 257.70,189.17 258.70,188.90 C259.70,188.63 261.43,193.78 262.80,193.00 C264.17,192.22 265.65,184.62 266.90,184.25 C268.15,183.88 269.05,191.06 270.30,190.80 C271.55,190.54 273.15,182.90 274.40,182.70 C275.65,182.50 276.73,189.52 277.80,189.60 C278.87,189.68 279.83,183.13 280.80,183.20 C281.77,183.27 282.65,190.03 283.60,190.00 C284.55,189.97 285.52,182.97 286.50,183.00 C287.48,183.03 288.50,190.17 289.50,190.20 C290.50,190.23 291.50,183.23 292.50,183.20 C293.50,183.17 294.55,189.90 295.50,190.00 C296.45,190.10 297.45,184.10 298.20,183.80 C298.95,183.50 299.40,187.10 300.00,188.20 C300.60,189.30 301.05,191.07 301.80,190.40 C302.55,189.73 303.53,184.42 304.50,184.20 C305.47,183.98 306.47,189.28 307.60,189.10 C308.73,188.92 310.30,182.50 311.30,183.10 C312.30,183.70 312.82,190.95 313.60,192.70 C314.38,194.45 315.30,192.30 316.00,193.60 C316.70,194.90 317.20,199.83 317.80,200.50 C318.40,201.17 318.78,196.93 319.60,197.60 C320.42,198.27 321.72,204.18 322.70,204.50 C323.68,204.82 324.45,198.95 325.50,199.50 C326.55,200.05 327.50,208.12 329.00,207.80 C330.50,207.48 332.83,197.68 334.50,197.60 C336.17,197.52 337.17,207.50 339.00,207.30 C340.83,207.10 343.50,196.32 345.50,196.40 C347.50,196.48 349.50,205.78 351.00,207.80 C352.50,209.82 353.17,206.97 354.50,208.50 C355.83,210.03 357.42,216.20 359.00,217.00 C360.58,217.80 361.72,212.35 364.00,213.30 C366.28,214.25 370.03,225.00 372.70,222.70 C375.37,220.40 378.03,201.68 380.00,199.50 C381.97,197.32 383.28,207.55 384.50,209.60 C385.72,211.65 386.05,210.32 387.30,211.80 C388.55,213.28 390.05,219.63 392.00,218.50 C393.95,217.37 397.00,205.82 399.00,205.00 C401.00,204.18 402.50,212.50 404.00,213.60 C405.50,214.70 406.60,211.03 408.00,211.60 C409.40,212.17 410.73,217.53 412.40,217.00 C414.07,216.47 416.23,208.40 418.00,208.40 C419.77,208.40 420.83,214.57 423.00,217.00 C425.17,219.43 428.67,223.33 431.00,223.00 C433.33,222.67 435.50,215.83 437.00,215.00 C438.50,214.17 438.67,218.50 440.00,218.00 C441.33,217.50 443.50,212.17 445.00,212.00 C446.50,211.83 447.33,217.83 449.00,217.00 C450.67,216.17 453.33,207.67 455.00,207.00 C456.67,206.33 457.23,214.50 459.00,213.00 C460.77,211.50 463.93,199.33 465.60,198.00 C467.27,196.67 467.77,205.00 469.00,205.00 C470.23,205.00 471.83,198.17 473.00,198.00 C474.17,197.83 475.00,204.00 476.00,204.00 C477.00,204.00 478.00,198.17 479.00,198.00 C480.00,197.83 481.00,203.07 482.00,203.00 C483.00,202.93 483.93,197.43 485.00,197.60 C486.07,197.77 487.23,203.93 488.40,204.00 C489.57,204.07 490.90,198.00 492.00,198.00 C493.10,198.00 494.00,204.00 495.00,204.00 C496.00,204.00 497.27,198.67 498.00,198.00 C498.73,197.33 499.17,199.67 499.40,200.00" stroke="#ee2a2a" stroke-width="1.2"/>
</g>
<g stroke="#222" stroke-width="1.3" fill="none">
<path d="M229.3,304.0 V86.3 H499.8"/>
<path d="M229.3,304.0 H499.8"/>
</g>
<path d="M499.8,86.3 V304.0" stroke="#8a8a8a" stroke-width="1.7"/>
<g stroke="#1a1a1a" stroke-width="1.35" fill="none">
<path d="M226.50,304.40 H229.3"/>
<path d="M497.00,304.40 H499.8"/>
<path d="M227.70,284.90 H229.3"/>
<path d="M498.20,284.90 H499.8"/>
<path d="M226.50,265.40 H229.3"/>
<path d="M497.00,265.40 H499.8"/>
<path d="M227.70,245.90 H229.3"/>
<path d="M498.20,245.90 H499.8"/>
<path d="M226.50,226.40 H229.3"/>
<path d="M497.00,226.40 H499.8"/>
<path d="M227.70,206.90 H229.3"/>
<path d="M498.20,206.90 H499.8"/>
<path d="M226.50,187.40 H229.3"/>
<path d="M497.00,187.40 H499.8"/>
<path d="M227.70,167.90 H229.3"/>
<path d="M498.20,167.90 H499.8"/>
<path d="M226.50,148.40 H229.3"/>
<path d="M497.00,148.40 H499.8"/>
<path d="M227.70,128.90 H229.3"/>
<path d="M498.20,128.90 H499.8"/>
<path d="M226.50,109.40 H229.3"/>
<path d="M497.00,109.40 H499.8"/>
<path d="M227.70,89.90 H229.3"/>
<path d="M498.20,89.90 H499.8"/>
<path d="M229.30,304.0 V307.4"/>
<path d="M229.30,86.3 V89.7"/>
<path d="M250.10,304.0 V305.8"/>
<path d="M250.10,86.3 V88.1"/>
<path d="M270.90,304.0 V307.4"/>
<path d="M270.90,86.3 V89.7"/>
<path d="M291.70,304.0 V305.8"/>
<path d="M291.70,86.3 V88.1"/>
<path d="M312.50,304.0 V307.4"/>
<path d="M312.50,86.3 V89.7"/>
<path d="M333.30,304.0 V305.8"/>
<path d="M333.30,86.3 V88.1"/>
<path d="M354.10,304.0 V307.4"/>
<path d="M354.10,86.3 V89.7"/>
<path d="M374.90,304.0 V305.8"/>
<path d="M374.90,86.3 V88.1"/>
<path d="M395.70,304.0 V307.4"/>
<path d="M395.70,86.3 V89.7"/>
<path d="M416.50,304.0 V305.8"/>
<path d="M416.50,86.3 V88.1"/>
<path d="M437.30,304.0 V307.4"/>
<path d="M437.30,86.3 V89.7"/>
<path d="M458.10,304.0 V305.8"/>
<path d="M458.10,86.3 V88.1"/>
<path d="M478.90,304.0 V307.4"/>
<path d="M478.90,86.3 V89.7"/>
<path d="M499.70,304.0 V305.8"/>
<path d="M499.70,86.3 V88.1"/>
</g>
<g font-size="9.5" fill="#3a3a3a"><text transform="translate(212.51,308.00) scale(0.755,1)">0</text><text transform="translate(215.55,308.00) scale(0.700,1)">.</text><text transform="translate(218.95,308.00) scale(0.750,1)">9</text><text transform="translate(221.89,308.00) scale(0.790,1)">7</text></g>
<g font-size="9.5" fill="#3a3a3a"><text transform="translate(502.61,308.00) scale(0.755,1)">0</text><text transform="translate(505.65,308.00) scale(0.700,1)">.</text><text transform="translate(509.05,308.00) scale(0.750,1)">9</text><text transform="translate(511.99,308.00) scale(0.790,1)">7</text></g>
<g font-size="9.5" fill="#3a3a3a"><text transform="translate(212.51,269.00) scale(0.755,1)">0</text><text transform="translate(215.55,269.00) scale(0.700,1)">.</text><text transform="translate(218.95,269.00) scale(0.750,1)">9</text><text transform="translate(222.11,269.00) scale(0.755,1)">8</text></g>
<g font-size="9.5" fill="#3a3a3a"><text transform="translate(502.61,269.00) scale(0.755,1)">0</text><text transform="translate(505.65,269.00) scale(0.700,1)">.</text><text transform="translate(509.05,269.00) scale(0.750,1)">9</text><text transform="translate(512.21,269.00) scale(0.755,1)">8</text></g>
<g font-size="9.5" fill="#3a3a3a"><text transform="translate(212.51,230.00) scale(0.755,1)">0</text><text transform="translate(215.55,230.00) scale(0.700,1)">.</text><text transform="translate(218.95,230.00) scale(0.750,1)">9</text><text transform="translate(222.15,230.00) scale(0.750,1)">9</text></g>
<g font-size="9.5" fill="#3a3a3a"><text transform="translate(502.61,230.00) scale(0.755,1)">0</text><text transform="translate(505.65,230.00) scale(0.700,1)">.</text><text transform="translate(509.05,230.00) scale(0.750,1)">9</text><text transform="translate(512.25,230.00) scale(0.750,1)">9</text></g>
<g font-size="9.5" fill="#3a3a3a"><text transform="translate(212.74,191.00) scale(0.622,1)">1</text><text transform="translate(215.55,191.00) scale(0.700,1)">.</text><text transform="translate(218.91,191.00) scale(0.755,1)">0</text><text transform="translate(222.11,191.00) scale(0.755,1)">0</text></g>
<g font-size="9.5" fill="#3a3a3a"><text transform="translate(502.84,191.00) scale(0.622,1)">1</text><text transform="translate(505.65,191.00) scale(0.700,1)">.</text><text transform="translate(509.01,191.00) scale(0.755,1)">0</text><text transform="translate(512.21,191.00) scale(0.755,1)">0</text></g>
<g font-size="9.5" fill="#3a3a3a"><text transform="translate(212.74,152.00) scale(0.622,1)">1</text><text transform="translate(215.55,152.00) scale(0.700,1)">.</text><text transform="translate(218.91,152.00) scale(0.755,1)">0</text><text transform="translate(222.34,152.00) scale(0.622,1)">1</text></g>
<g font-size="9.5" fill="#3a3a3a"><text transform="translate(502.84,152.00) scale(0.622,1)">1</text><text transform="translate(505.65,152.00) scale(0.700,1)">.</text><text transform="translate(509.01,152.00) scale(0.755,1)">0</text><text transform="translate(512.44,152.00) scale(0.622,1)">1</text></g>
<g font-size="9.5" fill="#3a3a3a"><text transform="translate(212.74,113.00) scale(0.622,1)">1</text><text transform="translate(215.55,113.00) scale(0.700,1)">.</text><text transform="translate(218.91,113.00) scale(0.755,1)">0</text><text transform="translate(222.05,113.00) scale(0.798,1)">2</text></g>
<g font-size="9.5" fill="#3a3a3a"><text transform="translate(502.84,113.00) scale(0.622,1)">1</text><text transform="translate(505.65,113.00) scale(0.700,1)">.</text><text transform="translate(509.01,113.00) scale(0.755,1)">0</text><text transform="translate(512.15,113.00) scale(0.798,1)">2</text></g>
<g font-size="9.5" fill="#3a3a3a"><text transform="translate(222.71,80.90) scale(0.755,1)">0</text><text transform="translate(225.75,80.90) scale(0.700,1)">.</text><text transform="translate(229.11,80.90) scale(0.755,1)">0</text><text transform="translate(232.31,80.90) scale(0.755,1)">0</text></g>
<g font-size="9.5" fill="#3a3a3a"><text transform="translate(222.71,318.60) scale(0.755,1)">0</text><text transform="translate(225.75,318.60) scale(0.700,1)">.</text><text transform="translate(229.11,318.60) scale(0.755,1)">0</text><text transform="translate(232.31,318.60) scale(0.755,1)">0</text></g>
<g font-size="9.5" fill="#3a3a3a"><text transform="translate(264.31,80.90) scale(0.755,1)">0</text><text transform="translate(267.35,80.90) scale(0.700,1)">.</text><text transform="translate(270.71,80.90) scale(0.755,1)">0</text><text transform="translate(273.74,80.90) scale(0.794,1)">5</text></g>
<g font-size="9.5" fill="#3a3a3a"><text transform="translate(264.31,318.60) scale(0.755,1)">0</text><text transform="translate(267.35,318.60) scale(0.700,1)">.</text><text transform="translate(270.71,318.60) scale(0.755,1)">0</text><text transform="translate(273.74,318.60) scale(0.794,1)">5</text></g>
<g font-size="9.5" fill="#3a3a3a"><text transform="translate(305.91,80.90) scale(0.755,1)">0</text><text transform="translate(308.95,80.90) scale(0.700,1)">.</text><text transform="translate(312.54,80.90) scale(0.622,1)">1</text><text transform="translate(315.51,80.90) scale(0.755,1)">0</text></g>
<g font-size="9.5" fill="#3a3a3a"><text transform="translate(305.91,318.60) scale(0.755,1)">0</text><text transform="translate(308.95,318.60) scale(0.700,1)">.</text><text transform="translate(312.54,318.60) scale(0.622,1)">1</text><text transform="translate(315.51,318.60) scale(0.755,1)">0</text></g>
<g font-size="9.5" fill="#3a3a3a"><text transform="translate(347.51,80.90) scale(0.755,1)">0</text><text transform="translate(350.55,80.90) scale(0.700,1)">.</text><text transform="translate(354.14,80.90) scale(0.622,1)">1</text><text transform="translate(356.94,80.90) scale(0.794,1)">5</text></g>
<g font-size="9.5" fill="#3a3a3a"><text transform="translate(347.51,318.60) scale(0.755,1)">0</text><text transform="translate(350.55,318.60) scale(0.700,1)">.</text><text transform="translate(354.14,318.60) scale(0.622,1)">1</text><text transform="translate(356.94,318.60) scale(0.794,1)">5</text></g>
<g font-size="9.5" fill="#3a3a3a"><text transform="translate(389.11,80.90) scale(0.755,1)">0</text><text transform="translate(392.15,80.90) scale(0.700,1)">.</text><text transform="translate(395.45,80.90) scale(0.798,1)">2</text><text transform="translate(398.71,80.90) scale(0.755,1)">0</text></g>
<g font-size="9.5" fill="#3a3a3a"><text transform="translate(389.11,318.60) scale(0.755,1)">0</text><text transform="translate(392.15,318.60) scale(0.700,1)">.</text><text transform="translate(395.45,318.60) scale(0.798,1)">2</text><text transform="translate(398.71,318.60) scale(0.755,1)">0</text></g>
<g font-size="9.5" fill="#3a3a3a"><text transform="translate(430.71,80.90) scale(0.755,1)">0</text><text transform="translate(433.75,80.90) scale(0.700,1)">.</text><text transform="translate(437.05,80.90) scale(0.798,1)">2</text><text transform="translate(440.14,80.90) scale(0.794,1)">5</text></g>
<g font-size="9.5" fill="#3a3a3a"><text transform="translate(430.71,318.60) scale(0.755,1)">0</text><text transform="translate(433.75,318.60) scale(0.700,1)">.</text><text transform="translate(437.05,318.60) scale(0.798,1)">2</text><text transform="translate(440.14,318.60) scale(0.794,1)">5</text></g>
<g font-size="9.5" fill="#3a3a3a"><text transform="translate(472.31,80.90) scale(0.755,1)">0</text><text transform="translate(475.35,80.90) scale(0.700,1)">.</text><text transform="translate(478.63,80.90) scale(0.775,1)">3</text><text transform="translate(481.91,80.90) scale(0.755,1)">0</text></g>
<g font-size="9.5" fill="#3a3a3a"><text transform="translate(472.31,318.60) scale(0.755,1)">0</text><text transform="translate(475.35,318.60) scale(0.700,1)">.</text><text transform="translate(478.63,318.60) scale(0.775,1)">3</text><text transform="translate(481.91,318.60) scale(0.755,1)">0</text></g>
<rect x="56.6" y="5.8" width="488.8" height="19.5" fill="#fff" stroke="#7a7a7a" stroke-width="1.45"/>
<path d="M57.6,15.6 H78.4" stroke="#2a2a2a" stroke-width="1.6"/>
<path d="M176.4,15.6 H197.7" stroke="#ee2a2a" stroke-width="1.6"/>
<path d="M285.6,15.6 H305.4" stroke="#1f62d8" stroke-width="1.8"/>
<path d="M414.4,15.6 H435.6" stroke="#2aa660" stroke-width="1.8"/>
<g font-size="15.5" fill="#2e2e2e"><text transform="translate(83.76,20.80) scale(0.545,1)">E</text><text transform="translate(89.03,20.80) scale(0.605,1.0)">x</text><text transform="translate(93.95,20.80) scale(0.681,1.0)">p</text><text transform="translate(99.10,20.80) scale(0.712,1.0)">e</text><text transform="translate(104.22,20.80) scale(0.703,1.0)">c</text><text transform="translate(109.86,20.80) scale(0.879,1.0)">t</text><text transform="translate(114.48,20.80) scale(0.667,1.0)">a</text><text transform="translate(120.07,20.80) scale(0.879,1.0)">t</text><text transform="translate(126.05,20.80) scale(0.485,1.0)">i</text><text transform="translate(129.44,20.80) scale(0.715,1.0)">o</text><text transform="translate(134.65,20.80) scale(0.678,1.0)">n</text><text transform="translate(145.07,20.80) scale(0.703,1.0)">c</text><text transform="translate(150.34,20.80) scale(0.596,1.0)">u</text><text transform="translate(155.28,20.80) scale(0.920,1.0)">r</text><text transform="translate(160.67,20.80) scale(0.560,1.0)">v</text><text transform="translate(165.48,20.80) scale(0.712,1.0)">e</text></g>
<g font-size="15.5" fill="#2e2e2e"><text transform="translate(202.65,20.80) scale(0.414,1)">A</text><text transform="translate(207.66,20.80) scale(0.447,1)">D</text><text transform="translate(212.60,20.80) scale(0.495,1)">R</text><text transform="translate(217.82,20.80) scale(0.512,1)">C</text><text transform="translate(228.23,20.80) scale(0.708,1.0)">c</text><text transform="translate(233.06,20.80) scale(0.721,1.0)">o</text><text transform="translate(238.31,20.80) scale(0.683,1.0)">n</text><text transform="translate(244.21,20.80) scale(0.886,1.0)">t</text><text transform="translate(248.82,20.80) scale(0.928,1.0)">r</text><text transform="translate(253.65,20.80) scale(0.721,1.0)">o</text><text transform="translate(260.09,20.80) scale(0.698,1.0)">l</text><text transform="translate(265.23,20.80) scale(0.698,1.0)">l</text><text transform="translate(269.39,20.80) scale(0.718,1.0)">e</text><text transform="translate(274.56,20.80) scale(0.928,1.0)">r</text></g>
<g font-size="15.5" fill="#2e2e2e"><text transform="translate(311.31,20.80) scale(0.494,1)">R</text><text transform="translate(316.62,20.80) scale(0.494,1)">B</text><text transform="translate(321.70,20.80) scale(0.593,1)">F</text><text transform="translate(326.52,20.80) scale(1.096,1)">-</text><text transform="translate(332.17,20.80) scale(0.413,1)">A</text><text transform="translate(337.16,20.80) scale(0.446,1)">D</text><text transform="translate(342.09,20.80) scale(0.494,1)">R</text><text transform="translate(347.29,20.80) scale(0.510,1)">C</text><text transform="translate(357.67,20.80) scale(0.706,1.0)">c</text><text transform="translate(362.48,20.80) scale(0.718,1.0)">o</text><text transform="translate(367.72,20.80) scale(0.681,1.0)">n</text><text transform="translate(373.60,20.80) scale(0.884,1.0)">t</text><text transform="translate(378.19,20.80) scale(0.925,1.0)">r</text><text transform="translate(383.00,20.80) scale(0.718,1.0)">o</text><text transform="translate(389.42,20.80) scale(0.696,1.0)">l</text><text transform="translate(394.55,20.80) scale(0.696,1.0)">l</text><text transform="translate(398.69,20.80) scale(0.715,1.0)">e</text><text transform="translate(403.84,20.80) scale(0.925,1.0)">r</text></g>
<g font-size="15.5" fill="#2e2e2e"><text transform="translate(440.54,20.80) scale(0.590,1)">F</text><text transform="translate(445.51,20.80) scale(0.491,1)">R</text><text transform="translate(450.80,20.80) scale(0.492,1)">B</text><text transform="translate(455.86,20.80) scale(0.590,1)">F</text><text transform="translate(460.65,20.80) scale(1.090,1)">-</text><text transform="translate(466.27,20.80) scale(0.411,1)">A</text><text transform="translate(471.24,20.80) scale(0.444,1)">D</text><text transform="translate(476.14,20.80) scale(0.491,1)">R</text><text transform="translate(481.32,20.80) scale(0.508,1)">C</text><text transform="translate(491.65,20.80) scale(0.703,1.0)">c</text><text transform="translate(496.44,20.80) scale(0.715,1.0)">o</text><text transform="translate(501.65,20.80) scale(0.677,1.0)">n</text><text transform="translate(507.50,20.80) scale(0.879,1.0)">t</text><text transform="translate(512.07,20.80) scale(0.920,1.0)">r</text><text transform="translate(516.86,20.80) scale(0.715,1.0)">o</text><text transform="translate(523.24,20.80) scale(0.693,1.0)">l</text><text transform="translate(528.35,20.80) scale(0.693,1.0)">l</text><text transform="translate(532.47,20.80) scale(0.712,1.0)">e</text><text transform="translate(537.59,20.80) scale(0.920,1.0)">r</text></g>
</svg>
</body></html>
